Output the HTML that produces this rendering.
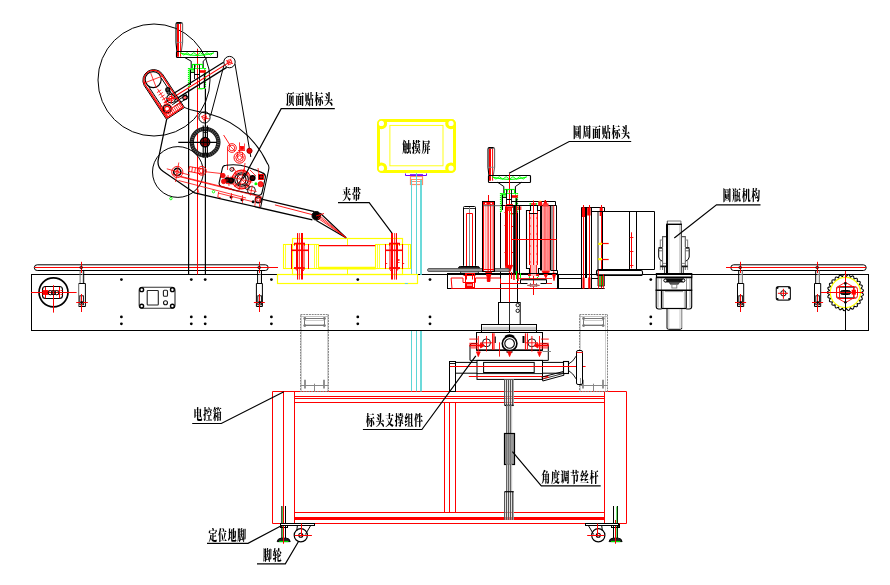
<!DOCTYPE html>
<html lang="zh"><head><meta charset="utf-8"><title>贴标机</title>
<style>
html,body{margin:0;padding:0;background:#fff;}
body{width:890px;height:585px;overflow:hidden;}
svg{display:block;}
text{font-family:"Liberation Serif","Noto Serif CJK SC",serif;font-weight:900;fill:#000;}
</style></head><body>
<svg width="890" height="585" viewBox="0 0 890 585" fill="none" stroke-linecap="butt">
<rect width="890" height="585" fill="#fff"/>
<g id="conveyor">
<rect x="31.50" y="274.50" width="837.00" height="56.00" rx="0" stroke="#000" stroke-width="1" fill="none" />
<rect x="34.30" y="264.80" width="233.90" height="5.70" rx="2.9" stroke="#000" stroke-width="1" fill="none" />
<line x1="34.50" y1="267.50" x2="278.00" y2="267.50" stroke="#f00" stroke-width="1" />
<rect x="730.80" y="264.80" width="135.40" height="5.70" rx="2.9" stroke="#000" stroke-width="1" fill="none" />
<line x1="726.00" y1="267.50" x2="866.00" y2="267.50" stroke="#f00" stroke-width="1" />
<line x1="80.10" y1="270.50" x2="80.10" y2="283.50" stroke="#777" stroke-width="1" />
<line x1="83.70" y1="270.50" x2="83.70" y2="283.50" stroke="#000" stroke-width="1" />
<line x1="82.40" y1="271.00" x2="82.40" y2="283.00" stroke="#ccc" stroke-width="0.8" />
<path d="M78.70 283.50 L85.40 283.50 L85.40 306.50 L78.70 306.50" stroke="#000" stroke-width="1" fill="none" />
<line x1="78.70" y1="283.50" x2="78.70" y2="306.50" stroke="#666" stroke-width="1" />
<rect x="79.80" y="295.80" width="3.60" height="9.00" rx="0" stroke="#000" stroke-width="0.9" fill="none" />
<line x1="81.50" y1="261.80" x2="81.50" y2="273.00" stroke="#f00" stroke-width="1" />
<line x1="81.50" y1="294.00" x2="81.50" y2="312.00" stroke="#f00" stroke-width="1" />
<line x1="76.20" y1="302.50" x2="87.80" y2="302.50" stroke="#f00" stroke-width="1" />
<circle cx="81.7" cy="302.5" r="1.4" stroke="#000" stroke-width="0" fill="#200" />
<circle cx="81.2" cy="267.5" r="1.3" stroke="#000" stroke-width="0.8" fill="none" />
<line x1="257.60" y1="270.50" x2="257.60" y2="283.50" stroke="#000" stroke-width="1" />
<line x1="261.50" y1="270.50" x2="261.50" y2="283.50" stroke="#000" stroke-width="1" />
<line x1="260.05" y1="271.00" x2="260.05" y2="283.00" stroke="#ccc" stroke-width="0.8" />
<path d="M256.40 283.50 L262.40 283.50 L262.40 306.50 L256.40 306.50" stroke="#000" stroke-width="1" fill="none" />
<line x1="256.40" y1="283.50" x2="256.40" y2="306.50" stroke="#000" stroke-width="1" />
<rect x="257.80" y="295.80" width="3.60" height="9.00" rx="0" stroke="#000" stroke-width="0.9" fill="none" />
<line x1="259.50" y1="261.80" x2="259.50" y2="273.00" stroke="#f00" stroke-width="1" />
<line x1="259.50" y1="294.00" x2="259.50" y2="312.00" stroke="#f00" stroke-width="1" />
<line x1="253.90" y1="302.50" x2="264.80" y2="302.50" stroke="#f00" stroke-width="1" />
<circle cx="259.7" cy="302.5" r="1.4" stroke="#000" stroke-width="0" fill="#200" />
<circle cx="259.2" cy="267.5" r="1.3" stroke="#000" stroke-width="0.8" fill="none" />
<line x1="738.70" y1="270.50" x2="738.70" y2="283.50" stroke="#000" stroke-width="1" />
<line x1="742.40" y1="270.50" x2="742.40" y2="283.50" stroke="#777" stroke-width="1" />
<line x1="741.05" y1="271.00" x2="741.05" y2="283.00" stroke="#ccc" stroke-width="0.8" />
<path d="M737.50 283.50 L743.70 283.50 L743.70 306.50 L737.50 306.50" stroke="#000" stroke-width="1" fill="none" />
<line x1="737.50" y1="283.50" x2="737.50" y2="306.50" stroke="#000" stroke-width="1" />
<rect x="738.80" y="295.80" width="3.60" height="9.00" rx="0" stroke="#000" stroke-width="0.9" fill="none" />
<line x1="740.50" y1="261.80" x2="740.50" y2="273.00" stroke="#f00" stroke-width="1" />
<line x1="740.50" y1="294.00" x2="740.50" y2="312.00" stroke="#f00" stroke-width="1" />
<line x1="735.00" y1="302.50" x2="746.10" y2="302.50" stroke="#f00" stroke-width="1" />
<circle cx="740.7" cy="302.5" r="1.4" stroke="#000" stroke-width="0" fill="#200" />
<circle cx="740.2" cy="267.5" r="1.3" stroke="#000" stroke-width="0.8" fill="none" />
<line x1="815.70" y1="270.50" x2="815.70" y2="283.50" stroke="#000" stroke-width="1" />
<line x1="819.40" y1="270.50" x2="819.40" y2="283.50" stroke="#777" stroke-width="1" />
<line x1="818.05" y1="271.00" x2="818.05" y2="283.00" stroke="#ccc" stroke-width="0.8" />
<path d="M814.50 283.50 L820.70 283.50 L820.70 306.50 L814.50 306.50" stroke="#000" stroke-width="1" fill="none" />
<line x1="814.50" y1="283.50" x2="814.50" y2="306.50" stroke="#000" stroke-width="1" />
<rect x="815.80" y="295.80" width="3.60" height="9.00" rx="0" stroke="#000" stroke-width="0.9" fill="none" />
<line x1="817.50" y1="261.80" x2="817.50" y2="273.00" stroke="#f00" stroke-width="1" />
<line x1="817.50" y1="294.00" x2="817.50" y2="312.00" stroke="#f00" stroke-width="1" />
<line x1="812.00" y1="302.50" x2="823.10" y2="302.50" stroke="#f00" stroke-width="1" />
<circle cx="817.7" cy="302.5" r="1.4" stroke="#000" stroke-width="0" fill="#200" />
<circle cx="817.2" cy="267.5" r="1.3" stroke="#000" stroke-width="0.8" fill="none" />
<circle cx="121.4" cy="279.6" r="1.4" stroke="none" stroke-width="0" fill="#000" />
<circle cx="121.4" cy="316.9" r="1.4" stroke="none" stroke-width="0" fill="#000" />
<circle cx="121.4" cy="323.8" r="1.4" stroke="none" stroke-width="0" fill="#000" />
<circle cx="191.3" cy="279.6" r="1.4" stroke="none" stroke-width="0" fill="#000" />
<circle cx="191.3" cy="316.9" r="1.4" stroke="none" stroke-width="0" fill="#000" />
<circle cx="191.3" cy="323.8" r="1.4" stroke="none" stroke-width="0" fill="#000" />
<circle cx="205.2" cy="279.6" r="1.4" stroke="none" stroke-width="0" fill="#000" />
<circle cx="205.2" cy="316.9" r="1.4" stroke="none" stroke-width="0" fill="#000" />
<circle cx="205.2" cy="323.8" r="1.4" stroke="none" stroke-width="0" fill="#000" />
<circle cx="271.4" cy="279.6" r="1.4" stroke="none" stroke-width="0" fill="#000" />
<circle cx="271.4" cy="316.9" r="1.4" stroke="none" stroke-width="0" fill="#000" />
<circle cx="271.4" cy="323.8" r="1.4" stroke="none" stroke-width="0" fill="#000" />
<circle cx="357.8" cy="279.6" r="1.4" stroke="none" stroke-width="0" fill="#000" />
<circle cx="357.8" cy="316.9" r="1.4" stroke="none" stroke-width="0" fill="#000" />
<circle cx="357.8" cy="323.8" r="1.4" stroke="none" stroke-width="0" fill="#000" />
<circle cx="430.0" cy="279.6" r="1.4" stroke="none" stroke-width="0" fill="#000" />
<circle cx="430.0" cy="316.9" r="1.4" stroke="none" stroke-width="0" fill="#000" />
<circle cx="430.0" cy="323.8" r="1.4" stroke="none" stroke-width="0" fill="#000" />
<circle cx="650.8" cy="279.6" r="1.4" stroke="none" stroke-width="0" fill="#000" />
<circle cx="650.8" cy="316.9" r="1.4" stroke="none" stroke-width="0" fill="#000" />
<circle cx="650.8" cy="323.8" r="1.4" stroke="none" stroke-width="0" fill="#000" />
<circle cx="53.5" cy="292.3" r="14.5" stroke="#000" stroke-width="1.7" fill="none" />
<rect x="42.50" y="286.50" width="20.00" height="12.00" rx="3" stroke="#000" stroke-width="1.1" fill="none" />
<line x1="31.00" y1="292.50" x2="76.60" y2="292.50" stroke="#f00" stroke-width="1" />
<line x1="53.50" y1="285.20" x2="53.50" y2="312.60" stroke="#f00" stroke-width="1" />
<line x1="45.50" y1="287.00" x2="45.50" y2="298.30" stroke="#f00" stroke-width="1" />
<line x1="59.50" y1="287.00" x2="59.50" y2="298.30" stroke="#f00" stroke-width="1" />
<line x1="42.50" y1="290.50" x2="62.50" y2="290.50" stroke="#f00" stroke-width="0.8" stroke-dasharray="2 1"/>
<line x1="42.50" y1="294.50" x2="62.50" y2="294.50" stroke="#f00" stroke-width="0.8" stroke-dasharray="2 1"/>
<rect x="42.60" y="290.20" width="5.80" height="4.60" rx="0" stroke="#f00" stroke-width="0" fill="#f00" />
<circle cx="50.3" cy="292.7" r="2.1" stroke="#000" stroke-width="1" fill="none" />
<circle cx="53.5" cy="292.7" r="2.1" stroke="#000" stroke-width="1" fill="none" />
<circle cx="56.7" cy="292.7" r="2.1" stroke="#000" stroke-width="1" fill="none" />
<rect x="139.20" y="287.20" width="35.80" height="21.00" rx="3" stroke="#333" stroke-width="1.15" fill="none" />
<rect x="147.20" y="290.50" width="11.10" height="14.50" rx="0.8" stroke="#222" stroke-width="1.1" fill="none" />
<rect x="163.40" y="290.30" width="4.10" height="5.90" rx="1" stroke="#222" stroke-width="1.1" fill="none" />
<circle cx="165.5" cy="302.8" r="2.0" stroke="#111" stroke-width="1.1" fill="none" />
<circle cx="141.7" cy="289.7" r="1.9" stroke="#000" stroke-width="1.4" fill="#fff" />
<circle cx="172.4" cy="289.7" r="1.9" stroke="#000" stroke-width="1.4" fill="#fff" />
<circle cx="141.7" cy="306.1" r="1.9" stroke="#000" stroke-width="1.4" fill="#fff" />
<circle cx="172.4" cy="306.1" r="1.9" stroke="#000" stroke-width="1.4" fill="#fff" />
<rect x="776.30" y="286.60" width="14.10" height="13.60" rx="2.2" stroke="#222" stroke-width="1.2" fill="none" />
<circle cx="777.5" cy="287.8" r="1.1" stroke="none" stroke-width="0" fill="#000" />
<circle cx="789.2" cy="287.8" r="1.1" stroke="none" stroke-width="0" fill="#000" />
<circle cx="777.5" cy="299.0" r="1.1" stroke="none" stroke-width="0" fill="#000" />
<circle cx="789.2" cy="299.0" r="1.1" stroke="none" stroke-width="0" fill="#000" />
<circle cx="783.4" cy="293.3" r="2.7" stroke="#000" stroke-width="1" fill="none" />
<line x1="777.90" y1="293.30" x2="788.00" y2="293.30" stroke="#f00" stroke-width="1" />
<line x1="783.40" y1="288.80" x2="783.40" y2="298.80" stroke="#f00" stroke-width="1" />
<path d="M861.40 292.50 Q865.84 295.08 860.90 296.48 Q864.55 300.08 859.42 300.21 Q862.07 304.61 857.06 303.45 Q858.53 308.37 853.97 306.01 Q854.17 311.14 850.34 307.72 Q849.26 312.74 846.40 308.47 Q844.11 313.06 842.40 308.22 Q839.03 312.09 838.59 306.98 Q834.36 309.89 835.20 304.83 Q830.38 306.60 832.46 301.90 Q827.35 302.42 830.52 298.39 Q825.45 297.62 829.53 294.51 Q824.80 292.50 829.53 290.49 Q825.45 287.38 830.52 286.61 Q827.35 282.58 832.46 283.10 Q830.38 278.40 835.20 280.17 Q834.36 275.11 838.59 278.02 Q839.03 272.91 842.40 276.78 Q844.11 271.94 846.40 276.53 Q849.26 272.26 850.34 277.28 Q854.17 273.86 853.97 278.99 Q858.53 276.63 857.06 281.55 Q862.07 280.39 859.42 284.79 Q864.55 284.92 860.90 288.52 Q865.84 289.92 861.40 292.50 Z" stroke="#000" stroke-width="1.1" fill="none" />
<circle cx="845.4" cy="292.5" r="15.1" stroke="#ff0" stroke-width="1.2" fill="none" />
<path d="M845.40 282.30 L854.20 287.40 L854.20 297.60 L845.40 302.70 L836.60 297.60 L836.60 287.40 Z" stroke="#f00" stroke-width="0.9" fill="none" />
<rect x="836.50" y="286.50" width="21.00" height="12.00" rx="3" stroke="#f00" stroke-width="1" fill="none" />
<line x1="838.00" y1="287.50" x2="855.50" y2="287.50" stroke="#555" stroke-width="0.9" />
<line x1="838.00" y1="297.50" x2="855.50" y2="297.50" stroke="#555" stroke-width="0.9" />
<line x1="839.50" y1="286.40" x2="839.50" y2="298.80" stroke="#f00" stroke-width="0.9" />
<line x1="853.50" y1="286.40" x2="853.50" y2="298.80" stroke="#f00" stroke-width="0.9" />
<rect x="840.50" y="290.50" width="10.00" height="4.00" rx="2" stroke="#000" stroke-width="1" fill="#222" />
<line x1="842.00" y1="292.50" x2="849.00" y2="292.50" stroke="#999" stroke-width="0.8" />
<rect x="851.60" y="289.80" width="4.30" height="4.80" rx="0" stroke="#f00" stroke-width="0" fill="#f00" />
<line x1="820.90" y1="292.50" x2="863.20" y2="292.50" stroke="#f00" stroke-width="1" />
<line x1="845.50" y1="271.00" x2="845.50" y2="283.00" stroke="#f00" stroke-width="1" />
<line x1="845.50" y1="283.40" x2="845.50" y2="330.50" stroke="#000" stroke-width="1" />
<circle cx="845.4" cy="283.4" r="1.3" stroke="none" stroke-width="0" fill="#000" />
<circle cx="845.4" cy="302.2" r="1.3" stroke="none" stroke-width="0" fill="#000" />
</g>
<g id="cabinet">
<path d="M618.50 523.50 L626.50 523.50 L626.50 391.50 L272.50 391.50 L272.50 523.50 L280.50 523.50" stroke="#f00" stroke-width="1" fill="none" />
<line x1="313.60" y1="523.50" x2="585.00" y2="523.50" stroke="#f00" stroke-width="1" />
<line x1="283.50" y1="391.50" x2="283.50" y2="523.50" stroke="#f00" stroke-width="1" />
<line x1="294.50" y1="391.50" x2="294.50" y2="523.50" stroke="#f00" stroke-width="1" />
<line x1="604.50" y1="391.50" x2="604.50" y2="523.50" stroke="#f00" stroke-width="1" />
<line x1="294.50" y1="396.50" x2="604.50" y2="396.50" stroke="#f00" stroke-width="1" />
<line x1="294.50" y1="398.50" x2="604.50" y2="398.50" stroke="#f00" stroke-width="1" />
<line x1="294.50" y1="402.50" x2="604.50" y2="402.50" stroke="#f00" stroke-width="1" />
<line x1="294.50" y1="512.50" x2="604.50" y2="512.50" stroke="#f00" stroke-width="1" />
<line x1="294.50" y1="518.50" x2="604.50" y2="518.50" stroke="#f00" stroke-width="3" />
<line x1="444.50" y1="402.50" x2="444.50" y2="512.50" stroke="#f00" stroke-width="1" />
<line x1="449.50" y1="402.50" x2="449.50" y2="512.50" stroke="#f00" stroke-width="1" />
<line x1="455.50" y1="402.50" x2="455.50" y2="512.50" stroke="#f00" stroke-width="1" />
</g>
<rect x="300.50" y="314.50" width="28.00" height="77.00" rx="0" stroke="#888" stroke-width="1" fill="none" stroke-dasharray="2 0.8"/>
<line x1="301.50" y1="315.00" x2="301.50" y2="391.00" stroke="#bbb" stroke-width="0.7" />
<line x1="327.50" y1="315.00" x2="327.50" y2="391.00" stroke="#bbb" stroke-width="0.7" />
<line x1="300.20" y1="316.50" x2="328.60" y2="316.50" stroke="#aaa" stroke-width="0.7" />
<rect x="304.50" y="318.50" width="20.00" height="7.00" rx="0" stroke="#777" stroke-width="1" fill="none" />
<line x1="304.60" y1="320.50" x2="324.60" y2="320.50" stroke="#aaa" stroke-width="0.6" />
<line x1="304.60" y1="324.50" x2="324.60" y2="324.50" stroke="#aaa" stroke-width="0.6" />
<circle cx="304.8" cy="318.5" r="1.4" stroke="none" stroke-width="0" fill="#777" />
<circle cx="304.8" cy="325.6" r="1.4" stroke="none" stroke-width="0" fill="#777" />
<circle cx="324.4" cy="318.5" r="1.4" stroke="none" stroke-width="0" fill="#777" />
<circle cx="324.4" cy="325.6" r="1.4" stroke="none" stroke-width="0" fill="#777" />
<line x1="300.20" y1="385.50" x2="328.60" y2="385.50" stroke="#888" stroke-width="1" />
<line x1="305.00" y1="379.70" x2="305.00" y2="388.60" stroke="#888" stroke-width="1.8" />
<line x1="324.00" y1="379.70" x2="324.00" y2="388.60" stroke="#888" stroke-width="1.8" />
<line x1="314.50" y1="383.70" x2="314.50" y2="391.50" stroke="#888" stroke-width="1" />
<rect x="579.50" y="314.50" width="28.00" height="77.00" rx="0" stroke="#888" stroke-width="1" fill="none" stroke-dasharray="2 0.8"/>
<line x1="580.50" y1="315.00" x2="580.50" y2="391.00" stroke="#bbb" stroke-width="0.7" />
<line x1="605.50" y1="315.00" x2="605.50" y2="391.00" stroke="#bbb" stroke-width="0.7" />
<line x1="579.00" y1="316.50" x2="607.30" y2="316.50" stroke="#aaa" stroke-width="0.7" />
<rect x="583.50" y="318.50" width="20.00" height="7.00" rx="0" stroke="#777" stroke-width="1" fill="none" />
<line x1="583.40" y1="320.50" x2="603.30" y2="320.50" stroke="#aaa" stroke-width="0.6" />
<line x1="583.40" y1="324.50" x2="603.30" y2="324.50" stroke="#aaa" stroke-width="0.6" />
<circle cx="583.6" cy="318.5" r="1.4" stroke="none" stroke-width="0" fill="#777" />
<circle cx="583.6" cy="325.6" r="1.4" stroke="none" stroke-width="0" fill="#777" />
<circle cx="603.1" cy="318.5" r="1.4" stroke="none" stroke-width="0" fill="#777" />
<circle cx="603.1" cy="325.6" r="1.4" stroke="none" stroke-width="0" fill="#777" />
<line x1="579.00" y1="385.50" x2="607.30" y2="385.50" stroke="#888" stroke-width="1" />
<line x1="583.00" y1="379.70" x2="583.00" y2="388.60" stroke="#888" stroke-width="1.8" />
<line x1="603.00" y1="379.70" x2="603.00" y2="388.60" stroke="#888" stroke-width="1.8" />
<line x1="593.50" y1="383.70" x2="593.50" y2="391.50" stroke="#888" stroke-width="1" />
<line x1="281.80" y1="506.00" x2="281.80" y2="538.00" stroke="#000" stroke-width="1" />
<line x1="285.50" y1="506.00" x2="285.50" y2="538.00" stroke="#000" stroke-width="1" />
<line x1="282.75" y1="506.50" x2="282.75" y2="538.00" stroke="#0c0" stroke-width="0.8" />
<line x1="283.50" y1="505.00" x2="283.50" y2="543.50" stroke="#f00" stroke-width="1" />
<path d="M277.2 541.6 Q277.6 538.4 281.1 538.2 L286.4 538.2 Q289.8 538.4 290.2 541.6 Z" stroke="#000" stroke-width="1" fill="#222" />
<line x1="279.15" y1="541.50" x2="288.45" y2="541.50" stroke="#0d0" stroke-width="1.2" />
<rect x="280.50" y="524.50" width="7.00" height="3.00" rx="0" stroke="#000" stroke-width="1" fill="none" />
<line x1="283.50" y1="505.00" x2="283.50" y2="543.50" stroke="#f00" stroke-width="1" />
<line x1="613.50" y1="506.00" x2="613.50" y2="538.00" stroke="#000" stroke-width="1" />
<line x1="617.50" y1="506.00" x2="617.50" y2="538.00" stroke="#000" stroke-width="1" />
<line x1="616.80" y1="506.50" x2="616.80" y2="538.00" stroke="#0c0" stroke-width="0.8" />
<line x1="615.50" y1="520.00" x2="615.50" y2="543.50" stroke="#f00" stroke-width="1" />
<path d="M609.1 541.6 Q609.5 538.4 613.0 538.2 L618.3 538.2 Q621.7 538.4 622.1 541.6 Z" stroke="#000" stroke-width="1" fill="#222" />
<line x1="611.00" y1="541.50" x2="620.30" y2="541.50" stroke="#0d0" stroke-width="1.2" />
<rect x="611.50" y="524.50" width="8.00" height="3.00" rx="0" stroke="#000" stroke-width="1" fill="none" />
<line x1="615.50" y1="520.00" x2="615.50" y2="543.50" stroke="#f00" stroke-width="1" />
<line x1="281.00" y1="523.50" x2="281.00" y2="527.50" stroke="#000" stroke-width="1.6" />
<line x1="618.00" y1="523.50" x2="618.00" y2="527.50" stroke="#000" stroke-width="1.6" />
<rect x="280.50" y="523.50" width="34.00" height="2.00" rx="0" stroke="#000" stroke-width="1" fill="#fff" />
<circle cx="300.8" cy="535.3" r="6.6" stroke="#000" stroke-width="1.2" fill="none" />
<circle cx="300.8" cy="535.3" r="2.0" stroke="#000" stroke-width="1.1" fill="none" />
<line x1="297.40" y1="525.50" x2="296.70" y2="531.00" stroke="#000" stroke-width="1" />
<line x1="310.70" y1="525.50" x2="305.40" y2="534.50" stroke="#000" stroke-width="1" />
<line x1="294.90" y1="535.50" x2="311.90" y2="535.50" stroke="#f00" stroke-width="1" />
<line x1="301.50" y1="523.50" x2="301.50" y2="536.50" stroke="#f00" stroke-width="1" />
<rect x="585.50" y="523.50" width="33.00" height="2.00" rx="0" stroke="#000" stroke-width="1" fill="#fff" />
<circle cx="598.3" cy="535.3" r="6.6" stroke="#000" stroke-width="1.2" fill="none" />
<circle cx="598.3" cy="535.3" r="2.0" stroke="#000" stroke-width="1.1" fill="none" />
<line x1="601.70" y1="525.50" x2="602.40" y2="531.00" stroke="#000" stroke-width="1" />
<line x1="588.40" y1="525.50" x2="593.70" y2="534.50" stroke="#000" stroke-width="1" />
<line x1="604.20" y1="535.50" x2="587.20" y2="535.50" stroke="#f00" stroke-width="1" />
<line x1="597.50" y1="523.50" x2="597.50" y2="536.50" stroke="#f00" stroke-width="1" />
<g id="touch">
<rect x="378.50" y="120.50" width="76.00" height="51.00" rx="3.2" stroke="#ff0" stroke-width="3" fill="none" />
<rect x="389.90" y="125.40" width="53.10" height="40.40" rx="0" stroke="#ff0" stroke-width="0.9" fill="none" />
<clipPath id="tsclip"><rect x="377" y="119" width="79" height="54" rx="4.7"/></clipPath><g clip-path="url(#tsclip)">
<circle cx="381.4" cy="123.4" r="4.2" stroke="#ff0" stroke-width="3.2" fill="#fff" />
<circle cx="451.0" cy="123.4" r="4.2" stroke="#ff0" stroke-width="3.2" fill="#fff" />
<circle cx="381.4" cy="168.2" r="4.2" stroke="#ff0" stroke-width="3.2" fill="#fff" />
<circle cx="451.0" cy="168.2" r="4.2" stroke="#ff0" stroke-width="3.2" fill="#fff" />
</g>
<path d="M405.50 173.50 L405.50 175.50 L426.50 175.50 L426.50 173.50" stroke="#7000ff" stroke-width="1" fill="none" />
<line x1="410.00" y1="175.00" x2="423.00" y2="175.00" stroke="#7000ff" stroke-width="1.6" />
<rect x="410.50" y="176.50" width="12.00" height="8.00" rx="0" stroke="#ff8c69" stroke-width="1.2" fill="none" />
<line x1="410.00" y1="179.50" x2="422.60" y2="179.50" stroke="#ff8c69" stroke-width="1" />
<line x1="410.00" y1="181.50" x2="422.60" y2="181.50" stroke="#ff8c69" stroke-width="1" />
<line x1="411.50" y1="180.00" x2="411.50" y2="275.00" stroke="#5cd6d6" stroke-width="1" />
<line x1="416.50" y1="173.00" x2="416.50" y2="275.00" stroke="#5cd6d6" stroke-width="1" />
<line x1="421.00" y1="180.00" x2="421.00" y2="275.00" stroke="#5cd6d6" stroke-width="1.8" />
<line x1="411.50" y1="330.30" x2="411.50" y2="391.40" stroke="#5cd6d6" stroke-width="1" />
<line x1="416.50" y1="330.30" x2="416.50" y2="391.40" stroke="#5cd6d6" stroke-width="1" />
<line x1="421.00" y1="330.30" x2="421.00" y2="391.40" stroke="#5cd6d6" stroke-width="1.8" />
</g>
<g id="clamp">
<rect x="277.50" y="274.50" width="140.00" height="9.00" rx="0" stroke="#ff0" stroke-width="1.2" fill="#fff" />
<circle cx="357.8" cy="279.6" r="1.4" stroke="none" stroke-width="0" fill="#000" />
<line x1="404.90" y1="283.50" x2="407.90" y2="283.50" stroke="#5cd6d6" stroke-width="1" />
<rect x="292.50" y="238.50" width="110.00" height="36.00" rx="0" stroke="#ff0" stroke-width="1.2" fill="none" />
<line x1="347.50" y1="238.50" x2="347.50" y2="245.00" stroke="#ff0" stroke-width="1" />
<line x1="347.50" y1="268.50" x2="347.50" y2="274.50" stroke="#ff0" stroke-width="1" />
<rect x="283.50" y="244.50" width="35.00" height="24.00" rx="0" stroke="#ff0" stroke-width="1.1" fill="none" />
<rect x="375.50" y="244.50" width="35.00" height="24.00" rx="0" stroke="#ff0" stroke-width="1.1" fill="none" />
<line x1="285.50" y1="244.50" x2="285.50" y2="268.60" stroke="#ff0" stroke-width="0.8" />
<line x1="314.50" y1="244.50" x2="314.50" y2="268.60" stroke="#ff0" stroke-width="0.8" />
<line x1="316.50" y1="244.50" x2="316.50" y2="268.60" stroke="#ff0" stroke-width="0.8" />
<line x1="377.50" y1="244.50" x2="377.50" y2="268.60" stroke="#ff0" stroke-width="0.8" />
<line x1="379.50" y1="244.50" x2="379.50" y2="268.60" stroke="#ff0" stroke-width="0.8" />
<line x1="408.50" y1="244.50" x2="408.50" y2="268.60" stroke="#ff0" stroke-width="0.8" />
<line x1="319.00" y1="245.60" x2="375.20" y2="245.60" stroke="#f00" stroke-width="1.4" />
<line x1="318.50" y1="268.20" x2="375.60" y2="268.20" stroke="#ff0" stroke-width="2.7" />
<line x1="297.50" y1="233.10" x2="297.50" y2="279.60" stroke="#f00" stroke-width="1" />
<line x1="299.30" y1="233.10" x2="299.30" y2="279.60" stroke="#f00" stroke-width="0.9" />
<line x1="302.00" y1="233.10" x2="302.00" y2="279.60" stroke="#f00" stroke-width="2" />
<line x1="291.50" y1="244.00" x2="291.50" y2="269.00" stroke="#f00" stroke-width="1" />
<line x1="308.50" y1="244.00" x2="308.50" y2="269.00" stroke="#f00" stroke-width="1" />
<line x1="296.50" y1="242.80" x2="296.50" y2="267.70" stroke="#f00" stroke-width="1" />
<line x1="304.00" y1="242.80" x2="304.00" y2="267.70" stroke="#f00" stroke-width="1" />
<line x1="291.50" y1="250.30" x2="308.50" y2="250.30" stroke="#f00" stroke-width="1.6" />
<line x1="294.00" y1="243.50" x2="305.00" y2="243.50" stroke="#f00" stroke-width="1.5" />
<line x1="294.50" y1="243.50" x2="294.50" y2="245.60" stroke="#f00" stroke-width="1" />
<line x1="304.50" y1="243.50" x2="304.50" y2="245.60" stroke="#f00" stroke-width="1" />
<line x1="294.00" y1="268.00" x2="304.80" y2="268.00" stroke="#f00" stroke-width="1.8" />
<line x1="295.40" y1="268.50" x2="297.50" y2="271.00" stroke="#f00" stroke-width="1" />
<line x1="304.60" y1="268.50" x2="303.00" y2="271.00" stroke="#f00" stroke-width="1" />
<line x1="396.50" y1="233.10" x2="396.50" y2="279.60" stroke="#f00" stroke-width="1" />
<line x1="394.70" y1="233.10" x2="394.70" y2="279.60" stroke="#f00" stroke-width="0.9" />
<line x1="392.00" y1="233.10" x2="392.00" y2="279.60" stroke="#f00" stroke-width="2" />
<line x1="402.50" y1="244.00" x2="402.50" y2="269.00" stroke="#f00" stroke-width="1" />
<line x1="385.50" y1="244.00" x2="385.50" y2="269.00" stroke="#f00" stroke-width="1" />
<line x1="397.50" y1="242.80" x2="397.50" y2="267.70" stroke="#f00" stroke-width="1" />
<line x1="390.00" y1="242.80" x2="390.00" y2="267.70" stroke="#f00" stroke-width="1" />
<line x1="402.50" y1="250.30" x2="385.50" y2="250.30" stroke="#f00" stroke-width="1.6" />
<line x1="400.00" y1="243.50" x2="389.00" y2="243.50" stroke="#f00" stroke-width="1.5" />
<line x1="399.50" y1="243.50" x2="399.50" y2="245.60" stroke="#f00" stroke-width="1" />
<line x1="389.50" y1="243.50" x2="389.50" y2="245.60" stroke="#f00" stroke-width="1" />
<line x1="400.00" y1="268.00" x2="389.20" y2="268.00" stroke="#f00" stroke-width="1.8" />
<line x1="398.60" y1="268.50" x2="396.50" y2="271.00" stroke="#f00" stroke-width="1" />
<line x1="389.40" y1="268.50" x2="391.00" y2="271.00" stroke="#f00" stroke-width="1" />
<line x1="398.00" y1="259.50" x2="399.60" y2="259.50" stroke="#f00" stroke-width="0.8" />
<line x1="398.00" y1="260.50" x2="399.60" y2="260.50" stroke="#f00" stroke-width="0.8" />
<line x1="398.00" y1="262.50" x2="399.60" y2="262.50" stroke="#f00" stroke-width="0.8" />
<line x1="385.50" y1="263.50" x2="387.20" y2="263.50" stroke="#f00" stroke-width="0.9" />
<line x1="402.50" y1="263.50" x2="404.20" y2="263.50" stroke="#f00" stroke-width="0.9" />
</g>
<g id="lefthead">
<circle cx="154.0" cy="80.0" r="56.0" stroke="#000" stroke-width="1" fill="none" />
<line x1="188.60" y1="88.50" x2="188.60" y2="274.50" stroke="#000" stroke-width="1.2" />
<line x1="205.40" y1="88.50" x2="205.40" y2="274.50" stroke="#000" stroke-width="1.2" />
<line x1="197.50" y1="48.70" x2="197.50" y2="274.50" stroke="#f00" stroke-width="1" />
<path d="M176.9 51.5 L176.0 42.4 L176.0 24.1 Q176.0 22.6 177.5 22.6 L181.2 22.6" stroke="#000" stroke-width="1.1" fill="none" />
<path d="M181.2 22.6 Q182.6 22.6 182.6 24.1 L182.6 42.4 L181.3 51.5" stroke="#666" stroke-width="1.1" fill="none" />
<line x1="176.80" y1="23.00" x2="181.60" y2="23.00" stroke="#000" stroke-width="1.5" />
<line x1="178.00" y1="23.90" x2="178.00" y2="56.70" stroke="#f00" stroke-width="2" />
<line x1="180.60" y1="23.90" x2="180.60" y2="56.70" stroke="#f00" stroke-width="1" />
<line x1="176.00" y1="42.40" x2="182.60" y2="42.40" stroke="#888" stroke-width="0.8" />
<rect x="176.50" y="51.50" width="41.00" height="6.00" rx="0.8" stroke="#000" stroke-width="1.15" fill="none" />
<path d="M180.50 52.70 L183.82 55.10 L187.14 52.70 L190.46 55.10 L193.78 52.70 L197.10 55.10 L200.42 52.70 L203.74 55.10 L207.06 52.70 L210.38 55.10 L213.70 52.70" stroke="#0f0" stroke-width="1" fill="none" />
<path d="M180.5 53.0 Q197.1 58.0 213.7 53.0" stroke="#0f0" stroke-width="1" fill="none" />
<path d="M184.80 57.60 L191.20 61.20 L191.20 68.00" stroke="#000" stroke-width="1" fill="none" />
<path d="M207.00 57.60 L203.20 61.20 L203.20 68.00" stroke="#000" stroke-width="1" fill="none" />
<line x1="188.50" y1="68.00" x2="188.50" y2="87.00" stroke="#0f0" stroke-width="1.2" stroke-dasharray="1.2 0.8"/>
<line x1="205.50" y1="68.00" x2="205.50" y2="87.00" stroke="#0f0" stroke-width="1.2" stroke-dasharray="1.2 0.8"/>
<line x1="189.50" y1="68.00" x2="189.50" y2="87.00" stroke="#0f0" stroke-width="0.7" />
<line x1="204.50" y1="68.00" x2="204.50" y2="87.00" stroke="#0f0" stroke-width="0.7" />
<line x1="188.40" y1="68.50" x2="205.10" y2="68.50" stroke="#0f0" stroke-width="0.8" />
<path d="M197.4 88.6 Q201.4 89.6 205.1 88.2" stroke="#0f0" stroke-width="1" fill="none" />
<line x1="199.40" y1="88.50" x2="205.10" y2="88.50" stroke="#0f0" stroke-width="0.8" />
<line x1="191.80" y1="64.50" x2="202.90" y2="64.50" stroke="#0f0" stroke-width="1.2" />
<line x1="192.50" y1="64.80" x2="192.50" y2="68.00" stroke="#0f0" stroke-width="1" />
<line x1="202.50" y1="64.80" x2="202.50" y2="68.00" stroke="#0f0" stroke-width="1" />
<line x1="195.50" y1="64.80" x2="195.50" y2="67.50" stroke="#0f0" stroke-width="0.8" />
<line x1="199.50" y1="64.80" x2="199.50" y2="67.50" stroke="#0f0" stroke-width="0.8" />
<rect x="190.50" y="69.50" width="4.00" height="3.00" rx="0" stroke="#0f0" stroke-width="0.9" fill="#7f7" />
<rect x="199.50" y="70.50" width="6.00" height="2.00" rx="0" stroke="#f00" stroke-width="0.6" fill="#f00" />
<line x1="190.50" y1="69.80" x2="190.50" y2="85.00" stroke="#000" stroke-width="1" />
<line x1="194.50" y1="64.70" x2="194.50" y2="79.00" stroke="#000" stroke-width="0.9" />
<line x1="199.50" y1="64.70" x2="199.50" y2="88.00" stroke="#000" stroke-width="0.9" />
<line x1="204.50" y1="73.20" x2="204.50" y2="88.00" stroke="#000" stroke-width="1.4" />
<line x1="194.80" y1="74.50" x2="199.50" y2="74.50" stroke="#000" stroke-width="1" />
<line x1="190.50" y1="72.50" x2="194.80" y2="72.50" stroke="#000" stroke-width="0.8" />
<circle cx="229.5" cy="62.1" r="5.7" stroke="#000" stroke-width="1" fill="none" />
<circle cx="229.5" cy="62.1" r="2.3" stroke="#f00" stroke-width="0.9" fill="none" />
<line x1="226.00" y1="60.50" x2="233.00" y2="63.70" stroke="#f00" stroke-width="0.8" />
<line x1="228.00" y1="65.50" x2="231.00" y2="58.70" stroke="#f00" stroke-width="0.8" />
<line x1="226.68" y1="67.40" x2="175.13" y2="99.65" stroke="#000" stroke-width="1.3" />
<line x1="223.50" y1="62.31" x2="171.95" y2="94.57" stroke="#000" stroke-width="1.3" />
<line x1="229.50" y1="62.10" x2="164.22" y2="102.94" stroke="#f00" stroke-width="1.1" />
<line x1="174.50" y1="106.18" x2="188.07" y2="97.70" stroke="#000" stroke-width="1" />
<line x1="174.50" y1="102.41" x2="186.37" y2="94.98" stroke="#000" stroke-width="1" />
<line x1="185.31" y1="93.29" x2="188.07" y2="97.70" stroke="#000" stroke-width="1" />
<circle cx="184.9" cy="97.5" r="2.1" stroke="#000" stroke-width="1.1" fill="none" />
<circle cx="184.9" cy="97.5" r="1.0" stroke="#f00" stroke-width="0.9" fill="none" />
<line x1="223.90" y1="65.50" x2="210.60" y2="115.80" stroke="#000" stroke-width="1" />
<line x1="235.00" y1="64.00" x2="250.80" y2="157.00" stroke="#000" stroke-width="1" />
<path d="M166.5 119.4 L144.2 85.5 A10.8 10.8 0 0 1 162.2 73.7 L184.5 107.5 Z" stroke="#000" stroke-width="1" fill="none" />
<path d="M166.8 117.9 L145.1 84.9 A9.7 9.7 0 0 1 161.3 74.3 L183.0 107.2 Z" stroke="#f00" stroke-width="1.3" fill="none" />
<circle cx="153.2" cy="79.6" r="8.0" stroke="#000" stroke-width="1.1" fill="none" />
<line x1="143.40" y1="83.36" x2="162.07" y2="76.20" stroke="#f00" stroke-width="0.8" />
<line x1="150.69" y1="73.06" x2="156.43" y2="88.00" stroke="#f00" stroke-width="0.8" />
<line x1="148.51" y1="86.29" x2="165.02" y2="111.33" stroke="#000" stroke-width="1" />
<line x1="161.20" y1="77.92" x2="172.76" y2="95.45" stroke="#000" stroke-width="1" />
<line x1="148.69" y1="88.56" x2="167.41" y2="116.95" stroke="#f00" stroke-width="0.8" />
<line x1="161.19" y1="89.90" x2="157.02" y2="92.65" stroke="#f00" stroke-width="0.8" />
<line x1="162.84" y1="92.41" x2="158.67" y2="95.16" stroke="#f00" stroke-width="0.8" />
<line x1="164.49" y1="94.91" x2="160.32" y2="97.66" stroke="#f00" stroke-width="0.8" />
<line x1="166.15" y1="97.42" x2="161.97" y2="100.17" stroke="#f00" stroke-width="0.8" />
<line x1="167.80" y1="99.92" x2="163.62" y2="102.67" stroke="#f00" stroke-width="0.8" />
<line x1="169.45" y1="102.43" x2="165.27" y2="105.18" stroke="#f00" stroke-width="0.8" />
<line x1="157.45" y1="88.77" x2="168.46" y2="105.47" stroke="#f00" stroke-width="0.8" />
<line x1="160.57" y1="103.49" x2="160.26" y2="108.48" stroke="#f00" stroke-width="0.8" />
<line x1="162.77" y1="106.83" x2="161.78" y2="109.88" stroke="#f00" stroke-width="0.8" />
<circle cx="171.0" cy="98.7" r="4.2" stroke="#000" stroke-width="1.2" fill="none" />
<circle cx="171.0" cy="98.7" r="2.4" stroke="#f00" stroke-width="1" fill="none" />
<line x1="166.00" y1="98.50" x2="176.00" y2="98.50" stroke="#f00" stroke-width="0.8" />
<line x1="171.50" y1="93.70" x2="171.50" y2="103.70" stroke="#f00" stroke-width="0.8" />
<circle cx="167.8" cy="89.7" r="2.0" stroke="#000" stroke-width="1.2" fill="#444" />
<circle cx="168.6" cy="92.7" r="1.6" stroke="#000" stroke-width="1" fill="#666" />
<circle cx="167.1" cy="108.8" r="4.0" stroke="#000" stroke-width="1.3" fill="none" />
<circle cx="167.1" cy="108.8" r="2.5" stroke="#f00" stroke-width="1.2" fill="none" />
<circle cx="167.1" cy="108.8" r="5.0" stroke="#f00" stroke-width="0.8" fill="none" />
<line x1="178.60" y1="103.58" x2="181.90" y2="108.59" stroke="#f00" stroke-width="0.85" />
<line x1="176.93" y1="104.68" x2="180.23" y2="109.69" stroke="#f00" stroke-width="0.85" />
<line x1="175.26" y1="105.78" x2="178.56" y2="110.79" stroke="#f00" stroke-width="0.85" />
<line x1="173.59" y1="106.88" x2="176.89" y2="111.89" stroke="#f00" stroke-width="0.85" />
<line x1="171.92" y1="107.98" x2="175.22" y2="112.99" stroke="#f00" stroke-width="0.85" />
<line x1="170.25" y1="109.09" x2="173.55" y2="114.09" stroke="#f00" stroke-width="0.85" />
<line x1="168.58" y1="110.19" x2="171.88" y2="115.20" stroke="#f00" stroke-width="0.85" />
<line x1="166.91" y1="111.29" x2="170.21" y2="116.30" stroke="#f00" stroke-width="0.85" />
<line x1="165.24" y1="112.39" x2="168.54" y2="117.40" stroke="#f00" stroke-width="0.85" />
<line x1="180.01" y1="102.65" x2="163.82" y2="113.32" stroke="#f00" stroke-width="0.9" />
<line x1="178.64" y1="100.56" x2="172.21" y2="104.80" stroke="#000" stroke-width="1" />
<path d="M166.7 119.2 L158.3 159.3 Q156.7 167.1 163.3 171.6 L194.6 192.9 L312.4 219.9" stroke="#000" stroke-width="1.25" fill="none" />
<path d="M184.2 107.4 Q190 110.2 197.0 111.2 A91.7 91.7 0 0 1 267.5 163.7 Q269.6 166 268.6 170 L260.6 207.5" stroke="#000" stroke-width="1.05" fill="none" />
<line x1="262.60" y1="199.40" x2="314.50" y2="211.70" stroke="#000" stroke-width="1.3" />
<line x1="274.90" y1="204.90" x2="316.00" y2="215.60" stroke="#f00" stroke-width="0.9" />
<circle cx="316.3" cy="215.8" r="4.3" stroke="#000" stroke-width="1" fill="#000" />
<path d="M320.30 213.30 L346.30 237.90 L316.30 220.40" stroke="#000" stroke-width="1.2" fill="none" />
<line x1="317.75" y1="218.12" x2="346.00" y2="237.60" stroke="#f00" stroke-width="0.8" />
<line x1="318.50" y1="216.75" x2="346.00" y2="237.60" stroke="#f00" stroke-width="0.8" />
<line x1="319.25" y1="215.38" x2="346.00" y2="237.60" stroke="#f00" stroke-width="0.8" />
<line x1="316.00" y1="216.00" x2="324.00" y2="213.50" stroke="#f00" stroke-width="0.9" />
<circle cx="204.5" cy="117.4" r="5.6" stroke="#000" stroke-width="1" fill="none" />
<circle cx="204.5" cy="117.4" r="2.2" stroke="#f00" stroke-width="0.8" fill="none" />
<line x1="201.00" y1="116.50" x2="209.00" y2="119.00" stroke="#f00" stroke-width="0.8" />
<line x1="204.00" y1="121.50" x2="206.00" y2="114.00" stroke="#f00" stroke-width="0.8" />
<circle cx="205.1" cy="142.2" r="13.3" stroke="#1c1c1c" stroke-width="4.3" fill="none" />
<circle cx="205.1" cy="142.2" r="13.3" stroke="#777" stroke-width="2.6" fill="none" stroke-dasharray="0.6 1.6"/>
<circle cx="205.1" cy="142.2" r="4.6" stroke="#000" stroke-width="1.5" fill="#b00" />
<circle cx="205.1" cy="142.2" r="2.4" stroke="#300" stroke-width="1" fill="#600" stroke-dasharray="1 1"/>
<line x1="178.30" y1="142.30" x2="216.90" y2="142.30" stroke="#000" stroke-width="1.3" />
<line x1="203.20" y1="125.50" x2="203.20" y2="157.80" stroke="#000" stroke-width="1.1" />
<line x1="207.40" y1="125.50" x2="207.40" y2="157.80" stroke="#000" stroke-width="1.1" />
<line x1="203.20" y1="130.10" x2="207.40" y2="130.10" stroke="#000" stroke-width="0.9" />
<line x1="203.20" y1="132.40" x2="207.40" y2="132.40" stroke="#000" stroke-width="0.9" />
<line x1="203.20" y1="153.20" x2="207.40" y2="153.20" stroke="#000" stroke-width="0.9" />
<line x1="203.20" y1="155.00" x2="207.40" y2="155.00" stroke="#000" stroke-width="0.9" />
<circle cx="177.9" cy="172.0" r="25.4" stroke="#000" stroke-width="1" fill="none" />
</g>
<g id="platedetail">
<line x1="223.60" y1="135.00" x2="230.30" y2="145.60" stroke="#f00" stroke-width="0.9" />
<circle cx="231.9" cy="148.0" r="4.4" stroke="#f00" stroke-width="0.9" fill="none" />
<circle cx="231.9" cy="148.0" r="2.8" stroke="#f00" stroke-width="0.8" fill="none" />
<line x1="229.00" y1="145.00" x2="235.00" y2="151.00" stroke="#f00" stroke-width="0.7" />
<circle cx="239.6" cy="157.6" r="5.6" stroke="#f00" stroke-width="1" fill="none" />
<circle cx="239.6" cy="157.6" r="3.8" stroke="#f00" stroke-width="0.9" fill="none" />
<circle cx="239.6" cy="157.6" r="2.0" stroke="#f00" stroke-width="0.8" fill="none" />
<line x1="227.50" y1="148.80" x2="227.50" y2="170.00" stroke="#f00" stroke-width="0.8" />
<line x1="239.50" y1="142.40" x2="239.50" y2="152.70" stroke="#f00" stroke-width="0.8" />
<rect x="240.50" y="146.50" width="3.00" height="3.00" rx="0" stroke="#f00" stroke-width="0.8" fill="#f00" />
<line x1="238.00" y1="150.50" x2="245.00" y2="150.50" stroke="#f00" stroke-width="0.8" />
<line x1="244.50" y1="143.50" x2="244.50" y2="150.00" stroke="#f00" stroke-width="0.7" />
<line x1="237.50" y1="152.00" x2="237.50" y2="158.00" stroke="#f00" stroke-width="0.7" />
<line x1="242.50" y1="152.00" x2="242.50" y2="158.00" stroke="#f00" stroke-width="0.7" />
<circle cx="249.5" cy="150.8" r="2.6" stroke="#900" stroke-width="1" fill="#e00" />
<path d="M222.3 168.5 Q222.8 165.6 226 165.3 Q237 163.6 247.6 167 L262 172.6 Q265.9 174 265.3 177.5 L261.9 193 Q261.2 195.8 258 195.2 L247.6 193 Q235 190.6 221.5 186.6 Q218.6 185.6 219.2 182.5 Z" stroke="#000" stroke-width="1.15" fill="none" />
<circle cx="241.5" cy="179.5" r="9.4" stroke="#f00" stroke-width="1.2" fill="none" />
<circle cx="241.5" cy="179.5" r="6.8" stroke="#000" stroke-width="1.1" fill="none" />
<circle cx="241.5" cy="179.5" r="7.9" stroke="#f00" stroke-width="0.8" fill="none" />
<circle cx="241.5" cy="179.5" r="4.6" stroke="#f00" stroke-width="0.9" fill="none" />
<path d="M238.0 175.0 Q241.5 173.0 245.0 175.0 Q247.0 179.5 245.0 184.0 Q241.5 185.5 238.0 184.0 Q236.0 179.5 238.0 175.0 Z" stroke="#000" stroke-width="0.9" fill="none" />
<line x1="230.50" y1="176.90" x2="252.50" y2="182.10" stroke="#f00" stroke-width="0.8" />
<line x1="244.10" y1="168.50" x2="238.90" y2="190.50" stroke="#f00" stroke-width="0.8" />
<line x1="234.50" y1="172.50" x2="248.50" y2="186.50" stroke="#f00" stroke-width="0.7" />
<line x1="248.50" y1="172.50" x2="234.50" y2="186.50" stroke="#f00" stroke-width="0.7" />
<line x1="238.50" y1="184.50" x2="245.10" y2="172.50" stroke="#000" stroke-width="0.9" />
<line x1="245.00" y1="163.00" x2="244.00" y2="172.00" stroke="#f00" stroke-width="0.8" />
<line x1="233.00" y1="167.00" x2="236.00" y2="172.00" stroke="#f00" stroke-width="0.8" />
<line x1="250.00" y1="170.00" x2="256.00" y2="176.00" stroke="#f00" stroke-width="0.8" />
<line x1="258.00" y1="168.00" x2="259.50" y2="178.00" stroke="#f00" stroke-width="0.8" />
<line x1="226.00" y1="177.00" x2="233.00" y2="178.50" stroke="#f00" stroke-width="0.9" />
<line x1="226.00" y1="183.50" x2="233.00" y2="184.00" stroke="#f00" stroke-width="0.9" />
<line x1="228.00" y1="175.00" x2="229.00" y2="186.00" stroke="#f00" stroke-width="0.8" />
<circle cx="252.6" cy="178.0" r="2.3" stroke="#000" stroke-width="1.6" fill="#400" />
<circle cx="231.1" cy="180.6" r="2.3" stroke="#000" stroke-width="1.6" fill="#400" />
<circle cx="227.0" cy="180.0" r="2.2" stroke="#000" stroke-width="1.3" fill="#600" />
<circle cx="261.2" cy="176.9" r="2.3" stroke="#000" stroke-width="1.2" fill="#c00" />
<rect x="258.50" y="174.50" width="5.00" height="5.00" rx="0" stroke="#f00" stroke-width="0.9" fill="none" />
<circle cx="222.9" cy="175.6" r="2.3" stroke="#f00" stroke-width="0.8" fill="#e11" />
<circle cx="223.7" cy="181.4" r="2.3" stroke="#f00" stroke-width="0.8" fill="#e11" />
<circle cx="260.6" cy="184.2" r="2.6" stroke="#f00" stroke-width="0.8" fill="#f22" />
<circle cx="255.9" cy="183.7" r="1.5" stroke="#0f0" stroke-width="0" fill="#0f0" />
<circle cx="231.8" cy="169.4" r="1.9" stroke="#000" stroke-width="0.9" fill="none" />
<line x1="230.50" y1="168.00" x2="233.00" y2="171.00" stroke="#f00" stroke-width="0.7" />
<circle cx="251.4" cy="190.4" r="4.0" stroke="#000" stroke-width="0.9" fill="none" />
<line x1="246.50" y1="189.50" x2="256.50" y2="191.50" stroke="#f00" stroke-width="0.8" />
<line x1="252.30" y1="185.50" x2="250.40" y2="195.50" stroke="#f00" stroke-width="0.8" />
<circle cx="247.2" cy="187.2" r="2.2" stroke="#000" stroke-width="0.8" fill="none" />
<circle cx="258.3" cy="199.7" r="3.0" stroke="#000" stroke-width="1.4" fill="none" />
<circle cx="258.3" cy="199.7" r="1.5" stroke="#f00" stroke-width="0.9" fill="none" />
<line x1="256.00" y1="196.00" x2="254.80" y2="206.00" stroke="#f00" stroke-width="0.8" />
<line x1="260.50" y1="197.50" x2="259.30" y2="207.00" stroke="#f00" stroke-width="0.8" />
<circle cx="231.1" cy="197.1" r="1.5" stroke="none" stroke-width="0" fill="#000" />
<circle cx="242.0" cy="199.7" r="1.5" stroke="none" stroke-width="0" fill="#000" />
<circle cx="253.1" cy="201.8" r="1.5" stroke="none" stroke-width="0" fill="#000" />
<line x1="231.50" y1="193.00" x2="231.50" y2="200.00" stroke="#f00" stroke-width="0.7" />
<line x1="242.50" y1="195.00" x2="242.50" y2="203.00" stroke="#f00" stroke-width="0.7" />
<circle cx="170.9" cy="198.6" r="1.2" stroke="#0f0" stroke-width="0.9" fill="none" />
<circle cx="213.5" cy="191.7" r="1.2" stroke="#0f0" stroke-width="0.9" fill="none" />
<circle cx="177.3" cy="172.0" r="3.6" stroke="#000" stroke-width="1.6" fill="none" />
<circle cx="177.3" cy="172.0" r="5.6" stroke="#f00" stroke-width="0.9" fill="none" />
<circle cx="177.3" cy="172.0" r="1.6" stroke="#f00" stroke-width="0.8" fill="none" />
<line x1="166.80" y1="168.80" x2="190.00" y2="175.20" stroke="#f00" stroke-width="0.8" />
<line x1="178.80" y1="162.50" x2="175.50" y2="182.00" stroke="#f00" stroke-width="0.8" />
<path d="M189.5 166.6 L203 169 L202.2 174 L188.6 171.4 Z" stroke="#f00" stroke-width="0.9" fill="none" />
<line x1="192.50" y1="167.00" x2="191.70" y2="172.00" stroke="#f00" stroke-width="0.8" />
<line x1="195.50" y1="167.60" x2="194.70" y2="172.60" stroke="#f00" stroke-width="0.8" />
<line x1="198.50" y1="168.20" x2="197.70" y2="173.20" stroke="#f00" stroke-width="0.8" />
<circle cx="201.8" cy="170.8" r="4.4" stroke="#f00" stroke-width="1" fill="none" />
<circle cx="201.8" cy="170.8" r="2.4" stroke="#f00" stroke-width="0.8" fill="none" />
<line x1="206.00" y1="171.80" x2="222.00" y2="173.60" stroke="#f00" stroke-width="0.8" />
<line x1="180.00" y1="176.80" x2="262.00" y2="197.20" stroke="#f00" stroke-width="0.8" />
<line x1="172.60" y1="174.40" x2="232.00" y2="189.00" stroke="#f00" stroke-width="0.8" />
<line x1="178.50" y1="180.50" x2="246.00" y2="198.00" stroke="#f00" stroke-width="0.8" />
<line x1="218.00" y1="193.00" x2="252.00" y2="201.50" stroke="#f00" stroke-width="0.8" />
<path d="M218.6 192 L217.8 197 L221 198" stroke="#f00" stroke-width="0.8" fill="none" />
<line x1="197.50" y1="188.00" x2="199.00" y2="193.00" stroke="#f00" stroke-width="0.7" />
</g>
<g id="righthead">
<path d="M488.9 175.5 L488.0 167.3 L488.0 149.0 Q488.0 147.5 489.5 147.5 L493.2 147.5" stroke="#000" stroke-width="1.1" fill="none" />
<path d="M493.2 147.5 Q494.6 147.5 494.6 149.0 L494.6 167.3 L493.3 175.5" stroke="#666" stroke-width="1.1" fill="none" />
<line x1="488.80" y1="147.90" x2="493.60" y2="147.90" stroke="#000" stroke-width="1.5" />
<line x1="490.00" y1="148.80" x2="490.00" y2="180.70" stroke="#f00" stroke-width="2" />
<line x1="492.60" y1="148.80" x2="492.60" y2="180.70" stroke="#f00" stroke-width="1" />
<line x1="488.00" y1="167.30" x2="494.60" y2="167.30" stroke="#888" stroke-width="0.8" />
<rect x="488.50" y="175.50" width="42.00" height="7.00" rx="0.8" stroke="#000" stroke-width="1.15" fill="none" />
<path d="M492.50 176.70 L495.91 179.10 L499.32 176.70 L502.73 179.10 L506.14 176.70 L509.55 179.10 L512.96 176.70 L516.37 179.10 L519.78 176.70 L523.19 179.10 L526.60 176.70" stroke="#0f0" stroke-width="1" fill="none" />
<path d="M492.5 177.0 Q509.6 182.0 526.6 177.0" stroke="#0f0" stroke-width="1" fill="none" />
<path d="M497.70 182.30 L503.80 186.50 L503.80 193.00" stroke="#000" stroke-width="1" fill="none" />
<path d="M521.50 182.30 L515.40 186.50 L515.40 193.00" stroke="#000" stroke-width="1" fill="none" />
<line x1="509.50" y1="173.50" x2="509.50" y2="302.70" stroke="#f00" stroke-width="1" />
<line x1="500.50" y1="193.00" x2="500.50" y2="212.00" stroke="#0f0" stroke-width="1.2" stroke-dasharray="1.2 0.8"/>
<line x1="517.50" y1="193.00" x2="517.50" y2="212.00" stroke="#0f0" stroke-width="1.2" stroke-dasharray="1.2 0.8"/>
<line x1="501.50" y1="193.00" x2="501.50" y2="212.00" stroke="#0f0" stroke-width="0.7" />
<line x1="515.50" y1="193.00" x2="515.50" y2="212.00" stroke="#0f0" stroke-width="0.7" />
<line x1="500.30" y1="193.50" x2="517.00" y2="193.50" stroke="#0f0" stroke-width="0.8" />
<path d="M509.3 213.6 Q513.3 214.6 517.0 213.2" stroke="#0f0" stroke-width="1" fill="none" />
<line x1="511.30" y1="213.50" x2="517.00" y2="213.50" stroke="#0f0" stroke-width="0.8" />
<line x1="503.70" y1="189.50" x2="514.80" y2="189.50" stroke="#0f0" stroke-width="1.2" />
<line x1="504.50" y1="189.80" x2="504.50" y2="193.00" stroke="#0f0" stroke-width="1" />
<line x1="514.50" y1="189.80" x2="514.50" y2="193.00" stroke="#0f0" stroke-width="1" />
<line x1="507.50" y1="189.80" x2="507.50" y2="192.50" stroke="#0f0" stroke-width="0.8" />
<line x1="511.50" y1="189.80" x2="511.50" y2="192.50" stroke="#0f0" stroke-width="0.8" />
<rect x="502.50" y="194.50" width="4.00" height="3.00" rx="0" stroke="#0f0" stroke-width="0.9" fill="#7f7" />
<rect x="511.50" y="195.50" width="6.00" height="2.00" rx="0" stroke="#f00" stroke-width="0.6" fill="#f00" />
<line x1="502.50" y1="194.80" x2="502.50" y2="210.00" stroke="#000" stroke-width="1" />
<line x1="506.50" y1="189.70" x2="506.50" y2="204.00" stroke="#000" stroke-width="0.9" />
<line x1="511.50" y1="189.70" x2="511.50" y2="213.00" stroke="#000" stroke-width="0.9" />
<line x1="516.50" y1="198.20" x2="516.50" y2="213.00" stroke="#000" stroke-width="1.4" />
<line x1="506.70" y1="199.50" x2="511.40" y2="199.50" stroke="#000" stroke-width="1" />
<line x1="502.40" y1="197.50" x2="506.70" y2="197.50" stroke="#000" stroke-width="0.8" />
<rect x="507.30" y="206.40" width="3.70" height="4.60" rx="0" stroke="#f00" stroke-width="0" fill="#f33" />
<rect x="517.60" y="206.40" width="3.80" height="3.60" rx="0" stroke="#f00" stroke-width="0" fill="#f33" />
<line x1="500.50" y1="212.50" x2="500.50" y2="302.00" stroke="#000" stroke-width="1" />
<line x1="517.50" y1="212.50" x2="517.50" y2="302.00" stroke="#000" stroke-width="1" />
<line x1="514.50" y1="205.50" x2="514.50" y2="273.00" stroke="#000" stroke-width="2.6" />
<line x1="519.50" y1="205.50" x2="519.50" y2="273.00" stroke="#000" stroke-width="1" />
<line x1="505.50" y1="207.00" x2="505.50" y2="266.00" stroke="#000" stroke-width="1" />
<line x1="507.00" y1="207.00" x2="507.00" y2="266.00" stroke="#f00" stroke-width="2" />
<line x1="511.50" y1="207.00" x2="511.50" y2="266.00" stroke="#f00" stroke-width="1" />
<line x1="516.50" y1="205.50" x2="516.50" y2="273.00" stroke="#f00" stroke-width="1" />
<line x1="511.50" y1="213.50" x2="513.00" y2="213.50" stroke="#f00" stroke-width="1" />
<line x1="511.50" y1="226.50" x2="513.00" y2="226.50" stroke="#f00" stroke-width="1" />
<line x1="511.50" y1="239.50" x2="513.00" y2="239.50" stroke="#f00" stroke-width="1" />
<line x1="511.50" y1="252.50" x2="513.00" y2="252.50" stroke="#f00" stroke-width="1" />
<path d="M505.50 265.40 L509.50 272.60 L512.50 265.40 Z" stroke="#f00" stroke-width="1" fill="#f00" />
<rect x="506.50" y="204.50" width="6.00" height="3.00" rx="0" stroke="#f00" stroke-width="0.9" fill="#f66" />
<rect x="463.50" y="206.50" width="12.00" height="60.00" rx="1" stroke="#000" stroke-width="1" fill="none" />
<line x1="463.00" y1="208.50" x2="475.50" y2="208.50" stroke="#000" stroke-width="0.8" />
<line x1="469.50" y1="207.00" x2="469.50" y2="266.30" stroke="#888" stroke-width="1" />
<path d="M466.50 279.50 L466.50 213.50 L472.50 213.50 L472.50 279.50" stroke="#f00" stroke-width="1" fill="none" />
<rect x="458.50" y="266.50" width="21.00" height="4.00" rx="1.8" stroke="#000" stroke-width="1" fill="#222" />
<rect x="460.50" y="270.50" width="18.00" height="3.00" rx="1.2" stroke="#000" stroke-width="0.8" fill="#bbb" />
<rect x="427.50" y="268.50" width="82.00" height="3.00" rx="1.5" stroke="#444" stroke-width="0.8" fill="#999" />
<rect x="482.50" y="201.50" width="12.00" height="70.00" rx="0" stroke="#000" stroke-width="1" fill="#ffe6e6" />
<line x1="483.50" y1="202.00" x2="483.50" y2="271.00" stroke="#f00" stroke-width="1" />
<line x1="488.10" y1="202.00" x2="488.10" y2="271.00" stroke="#f00" stroke-width="1" />
<line x1="490.60" y1="202.00" x2="490.60" y2="271.00" stroke="#f00" stroke-width="1" />
<line x1="493.20" y1="202.00" x2="493.20" y2="271.00" stroke="#f00" stroke-width="1" />
<line x1="485.80" y1="205.00" x2="485.80" y2="269.00" stroke="#f77" stroke-width="0.7" />
<rect x="483.00" y="202.00" width="11.00" height="2.70" rx="0" stroke="none" stroke-width="0" fill="#f00" />
<line x1="485.00" y1="203.30" x2="486.50" y2="203.30" stroke="#fff" stroke-width="1.2" />
<line x1="490.50" y1="203.30" x2="492.00" y2="203.30" stroke="#fff" stroke-width="1.2" />
<line x1="483.00" y1="269.50" x2="494.00" y2="269.50" stroke="#f00" stroke-width="1" />
<path d="M485.80 272.00 L487.30 277.50 L487.30 281.40 L490.00 281.40 L490.00 277.50 L491.60 272.00 Z" stroke="#f00" stroke-width="1" fill="#f00" />
<line x1="488.50" y1="195.00" x2="488.50" y2="201.00" stroke="#f00" stroke-width="1" />
<line x1="511.40" y1="201.50" x2="555.50" y2="201.50" stroke="#000" stroke-width="1" />
<line x1="500.80" y1="205.50" x2="556.50" y2="205.50" stroke="#000" stroke-width="1" />
<line x1="555.50" y1="201.50" x2="555.50" y2="205.50" stroke="#000" stroke-width="1" />
<line x1="556.50" y1="205.50" x2="556.50" y2="270.00" stroke="#000" stroke-width="1" />
<line x1="550.50" y1="205.50" x2="550.50" y2="270.00" stroke="#000" stroke-width="1" />
<line x1="552.00" y1="205.50" x2="552.00" y2="270.00" stroke="#222" stroke-width="0.9" />
<line x1="553.70" y1="205.50" x2="553.70" y2="278.00" stroke="#f00" stroke-width="0.9" />
<path d="M550.50 270.50 L557.50 270.50 L557.50 288.50" stroke="#000" stroke-width="1" fill="none" />
<path d="M552.30 273.20 L555.80 273.20 L554.00 280.70 Z" stroke="#f00" stroke-width="0.8" fill="#f00" />
<line x1="483.00" y1="205.70" x2="500.50" y2="205.70" stroke="#555" stroke-width="0.9" />
<path d="M530.50 205.50 L530.50 210.50 L526.50 210.50 L526.50 268.50 L529.50 268.50 L529.50 276.50" stroke="#000" stroke-width="1.1" fill="none" />
<path d="M537.50 205.50 L537.50 210.50 L540.50 210.50" stroke="#000" stroke-width="1.1" fill="none" />
<path d="M540.50 268.50 L538.50 268.50 L538.50 276.50" stroke="#000" stroke-width="1.1" fill="none" />
<rect x="529.00" y="213.40" width="8.50" height="51.60" rx="0" stroke="none" stroke-width="0" fill="#ffe9e9" />
<line x1="529.50" y1="211.00" x2="529.50" y2="265.00" stroke="#f00" stroke-width="1" />
<line x1="537.50" y1="211.00" x2="537.50" y2="265.00" stroke="#f00" stroke-width="1" />
<line x1="530.50" y1="214.00" x2="530.50" y2="265.00" stroke="#f99" stroke-width="0.5" />
<line x1="531.50" y1="214.00" x2="531.50" y2="265.00" stroke="#f99" stroke-width="0.5" />
<line x1="533.50" y1="214.00" x2="533.50" y2="265.00" stroke="#f99" stroke-width="0.5" />
<line x1="534.50" y1="214.00" x2="534.50" y2="265.00" stroke="#f99" stroke-width="0.5" />
<line x1="536.50" y1="214.00" x2="536.50" y2="265.00" stroke="#f99" stroke-width="0.5" />
<line x1="533.50" y1="200.50" x2="533.50" y2="295.00" stroke="#f00" stroke-width="1" />
<line x1="529.00" y1="213.50" x2="537.50" y2="213.50" stroke="#000" stroke-width="1" />
<line x1="529.50" y1="218.00" x2="531.00" y2="218.00" stroke="#f00" stroke-width="0.8" />
<line x1="536.00" y1="218.00" x2="537.40" y2="218.00" stroke="#f00" stroke-width="0.8" />
<line x1="529.50" y1="226.00" x2="531.00" y2="226.00" stroke="#f00" stroke-width="0.8" />
<line x1="536.00" y1="226.00" x2="537.40" y2="226.00" stroke="#f00" stroke-width="0.8" />
<line x1="529.50" y1="234.00" x2="531.00" y2="234.00" stroke="#f00" stroke-width="0.8" />
<line x1="536.00" y1="234.00" x2="537.40" y2="234.00" stroke="#f00" stroke-width="0.8" />
<line x1="529.50" y1="246.00" x2="531.00" y2="246.00" stroke="#f00" stroke-width="0.8" />
<line x1="536.00" y1="246.00" x2="537.40" y2="246.00" stroke="#f00" stroke-width="0.8" />
<line x1="529.50" y1="254.00" x2="531.00" y2="254.00" stroke="#f00" stroke-width="0.8" />
<line x1="536.00" y1="254.00" x2="537.40" y2="254.00" stroke="#f00" stroke-width="0.8" />
<line x1="529.50" y1="262.00" x2="531.00" y2="262.00" stroke="#f00" stroke-width="0.8" />
<line x1="536.00" y1="262.00" x2="537.40" y2="262.00" stroke="#f00" stroke-width="0.8" />
<rect x="530.00" y="265.00" width="7.20" height="11.00" rx="0" stroke="none" stroke-width="0" fill="#fbb" />
<line x1="530.50" y1="265.00" x2="530.50" y2="276.00" stroke="#f00" stroke-width="0.8" />
<line x1="536.50" y1="265.00" x2="536.50" y2="276.00" stroke="#f00" stroke-width="0.8" />
<rect x="528.00" y="273.40" width="2.20" height="2.60" rx="0" stroke="#f00" stroke-width="0" fill="#e11" />
<rect x="536.90" y="273.40" width="2.10" height="2.60" rx="0" stroke="#f00" stroke-width="0" fill="#e11" />
<line x1="529.50" y1="277.00" x2="529.50" y2="278.30" stroke="#0f0" stroke-width="1.2" />
<line x1="537.50" y1="277.00" x2="537.50" y2="278.30" stroke="#0f0" stroke-width="1.2" />
<line x1="529.50" y1="203.90" x2="531.00" y2="203.90" stroke="#0f0" stroke-width="1.6" />
<line x1="536.00" y1="203.90" x2="537.20" y2="203.90" stroke="#0f0" stroke-width="1.6" />
<line x1="531.00" y1="204.00" x2="536.00" y2="204.00" stroke="#f00" stroke-width="1.5" />
<line x1="541.00" y1="205.50" x2="541.00" y2="270.50" stroke="#000" stroke-width="2" />
<rect x="542.00" y="206.00" width="8.00" height="64.50" rx="0" stroke="none" stroke-width="0" fill="#fff0f0" />
<line x1="543.00" y1="206.00" x2="543.00" y2="270.50" stroke="#f00" stroke-width="0.62" />
<line x1="544.40" y1="206.00" x2="544.40" y2="270.50" stroke="#f00" stroke-width="0.62" />
<line x1="545.70" y1="206.00" x2="545.70" y2="270.50" stroke="#f00" stroke-width="0.62" />
<line x1="547.00" y1="206.00" x2="547.00" y2="270.50" stroke="#f00" stroke-width="0.62" />
<line x1="548.20" y1="206.00" x2="548.20" y2="270.50" stroke="#f00" stroke-width="0.62" />
<line x1="549.60" y1="206.00" x2="549.60" y2="270.50" stroke="#f00" stroke-width="0.62" />
<rect x="538.20" y="201.20" width="3.80" height="4.60" rx="0" stroke="#f00" stroke-width="0" fill="#f11" />
<rect x="539.00" y="200.70" width="2.00" height="0.80" rx="0" stroke="#ff0" stroke-width="0" fill="#ff0" />
<path d="M543.50 205.50 L545.30 200.00 L547.50 205.50 Z" stroke="#f00" stroke-width="1" fill="#f00" />
<rect x="542.50" y="203.50" width="6.00" height="3.00" rx="0" stroke="#f00" stroke-width="0" fill="#f33" />
<rect x="541.80" y="270.50" width="7.90" height="2.00" rx="0" stroke="#f00" stroke-width="0" fill="#f11" />
<path d="M543.00 272.50 L545.80 277.80 L548.40 272.50 Z" stroke="#f00" stroke-width="1" fill="#f00" />
<line x1="511.80" y1="239.50" x2="556.70" y2="239.50" stroke="#f00" stroke-width="1" />
<line x1="505.50" y1="205.00" x2="505.50" y2="268.00" stroke="#f00" stroke-width="0.8" />
<line x1="504.30" y1="212.50" x2="506.00" y2="212.50" stroke="#f00" stroke-width="0.8" />
<line x1="504.30" y1="225.50" x2="506.00" y2="225.50" stroke="#f00" stroke-width="0.8" />
<line x1="504.30" y1="252.50" x2="506.00" y2="252.50" stroke="#f00" stroke-width="0.8" />
<rect x="447.50" y="273.50" width="110.00" height="15.00" rx="0" stroke="#000" stroke-width="1" fill="none" />
<path d="M452.00 288.70 L451.10 278.00 L463.00 278.00 L463.00 282.50 L475.50 282.50 L475.50 278.00 L500.00 278.00" stroke="#f00" stroke-width="1" fill="none" />
<line x1="451.10" y1="288.50" x2="556.50" y2="288.50" stroke="#f00" stroke-width="0.9" />
<rect x="465.50" y="273.50" width="9.00" height="14.00" rx="0" stroke="#f00" stroke-width="1" fill="none" />
<rect x="466.50" y="283.50" width="6.00" height="3.00" rx="0" stroke="#f00" stroke-width="1" fill="#f88" />
<line x1="463.50" y1="275.50" x2="475.50" y2="275.50" stroke="#f00" stroke-width="1" />
<path d="M500.50 278.50 L500.50 283.50 L520.50 283.50" stroke="#f00" stroke-width="1" fill="none" />
<line x1="520.50" y1="279.50" x2="546.50" y2="279.50" stroke="#222" stroke-width="1.7" />
<path d="M527.50 283.50 L520.50 283.50 L520.50 279.50" stroke="#000" stroke-width="1" fill="none" />
<path d="M540.50 283.50 L546.50 283.50 L546.50 279.50" stroke="#000" stroke-width="1" fill="none" />
<line x1="530.50" y1="283.50" x2="530.50" y2="286.50" stroke="#000" stroke-width="1" />
<line x1="536.50" y1="283.50" x2="536.50" y2="286.50" stroke="#000" stroke-width="1" />
<line x1="519.00" y1="278.50" x2="552.00" y2="278.50" stroke="#f00" stroke-width="0.8" />
<line x1="546.50" y1="283.50" x2="552.00" y2="283.50" stroke="#f00" stroke-width="0.9" />
<path d="M527.3 285.4 Q533.5 283.2 539.5 285.4 Q533.5 287.4 527.3 285.4 Z" stroke="#a55" stroke-width="0.9" fill="#caa" />
<line x1="518.00" y1="273.50" x2="518.00" y2="281.00" stroke="#f00" stroke-width="1.5" />
<line x1="514.00" y1="273.50" x2="514.00" y2="280.00" stroke="#f00" stroke-width="1.5" />
<line x1="511.50" y1="272.00" x2="511.50" y2="279.00" stroke="#f00" stroke-width="1.2" />
<line x1="516.50" y1="271.00" x2="516.50" y2="279.00" stroke="#0f0" stroke-width="1" />
<line x1="520.50" y1="273.00" x2="520.50" y2="278.00" stroke="#0f0" stroke-width="1" />
<line x1="558.90" y1="274.50" x2="598.00" y2="274.50" stroke="#000" stroke-width="1" />
<line x1="558.90" y1="278.50" x2="581.80" y2="278.50" stroke="#000" stroke-width="1" />
<line x1="591.70" y1="278.50" x2="598.00" y2="278.50" stroke="#000" stroke-width="1" />
<line x1="558.50" y1="274.40" x2="558.50" y2="288.30" stroke="#000" stroke-width="1" />
<line x1="557.60" y1="288.50" x2="604.70" y2="288.50" stroke="#000" stroke-width="1" />
<rect x="498.50" y="302.50" width="21.70" height="22.00" rx="0" stroke="#000" stroke-width="1" fill="none" />
<line x1="509.50" y1="302.50" x2="509.50" y2="324.50" stroke="#333" stroke-width="1" />
<circle cx="517.7" cy="305.1" r="1.7" stroke="#000" stroke-width="0.9" fill="none" />
<circle cx="517.7" cy="310.8" r="1.7" stroke="#000" stroke-width="0.9" fill="none" />
<path d="M581.50 288.50 L581.50 207.50 L604.50 207.50 L604.50 211.50" stroke="#000" stroke-width="1" fill="none" />
<line x1="586.00" y1="207.50" x2="586.00" y2="278.00" stroke="#000" stroke-width="2" />
<line x1="591.50" y1="207.50" x2="591.50" y2="288.50" stroke="#000" stroke-width="1" />
<line x1="583.50" y1="205.00" x2="583.50" y2="288.50" stroke="#f00" stroke-width="1" />
<line x1="589.50" y1="205.00" x2="589.50" y2="288.50" stroke="#f00" stroke-width="1" />
<line x1="601.50" y1="205.00" x2="601.50" y2="288.50" stroke="#f00" stroke-width="1" />
<rect x="582.00" y="207.50" width="3.00" height="9.50" rx="0" stroke="none" stroke-width="0" fill="#f00" />
<rect x="587.20" y="207.50" width="3.40" height="8.00" rx="0" stroke="none" stroke-width="0" fill="#f00" />
<rect x="599.70" y="207.50" width="3.00" height="8.50" rx="0" stroke="none" stroke-width="0" fill="#f00" />
<rect x="582.50" y="277.50" width="2.10" height="11.00" rx="0" stroke="none" stroke-width="0" fill="#f00" />
<rect x="588.20" y="277.50" width="2.30" height="11.00" rx="0" stroke="none" stroke-width="0" fill="#f00" />
<line x1="598.00" y1="211.50" x2="598.00" y2="270.00" stroke="#888" stroke-width="2" />
<line x1="602.50" y1="211.50" x2="602.50" y2="270.00" stroke="#000" stroke-width="1" />
<line x1="599.80" y1="243.50" x2="608.70" y2="243.50" stroke="#f00" stroke-width="1.2" />
<line x1="599.80" y1="259.50" x2="608.70" y2="259.50" stroke="#f00" stroke-width="1.2" />
<rect x="598.30" y="242.80" width="3.70" height="2.20" rx="0" stroke="#ff0" stroke-width="0" fill="#ff0" />
<rect x="598.30" y="258.00" width="3.70" height="2.20" rx="0" stroke="#ff0" stroke-width="0" fill="#ff0" />
<path d="M591.50 211.50 L654.50 211.50 L654.50 269.50 L597.50 269.50" stroke="#000" stroke-width="1" fill="none" />
<line x1="629.50" y1="211.50" x2="629.50" y2="269.50" stroke="#000" stroke-width="1" />
<line x1="636.50" y1="211.50" x2="636.50" y2="269.50" stroke="#000" stroke-width="1" />
<line x1="631.50" y1="232.30" x2="631.50" y2="268.30" stroke="#f00" stroke-width="1" />
<line x1="629.80" y1="237.50" x2="633.40" y2="237.50" stroke="#f00" stroke-width="0.9" />
<line x1="629.80" y1="251.50" x2="633.40" y2="251.50" stroke="#f00" stroke-width="0.9" />
<line x1="629.80" y1="265.50" x2="633.40" y2="265.50" stroke="#f00" stroke-width="0.9" />
<rect x="596.50" y="270.50" width="46.00" height="5.00" rx="1.5" stroke="#000" stroke-width="1.1" fill="#fff" />
<line x1="597.50" y1="275.00" x2="642.00" y2="275.00" stroke="#000" stroke-width="1.6" />
<path d="M596.7 270 Q596.2 273 598 275 L598 286 L604.3 286 L604.3 274.6" stroke="#000" stroke-width="0.9" fill="none" />
<line x1="600.00" y1="276.00" x2="600.00" y2="286.00" stroke="#0a0" stroke-width="1.5" />
<line x1="602.50" y1="276.00" x2="602.50" y2="286.00" stroke="#0a0" stroke-width="1.2" />
<line x1="598.50" y1="270.00" x2="598.50" y2="288.70" stroke="#f00" stroke-width="0.8" />
<line x1="603.50" y1="274.00" x2="603.50" y2="288.70" stroke="#f00" stroke-width="0.8" />
</g>
<g id="motor">
<line x1="667.10" y1="221.00" x2="681.10" y2="221.00" stroke="#777" stroke-width="1" />
<line x1="667.30" y1="221.00" x2="667.30" y2="224.30" stroke="#444" stroke-width="1" />
<line x1="680.90" y1="221.00" x2="680.90" y2="224.30" stroke="#777" stroke-width="1" />
<line x1="666.20" y1="224.30" x2="682.00" y2="224.30" stroke="#000" stroke-width="1.4" />
<line x1="667.00" y1="224.30" x2="667.00" y2="273.00" stroke="#000" stroke-width="2" />
<line x1="681.30" y1="224.30" x2="681.30" y2="273.00" stroke="#222" stroke-width="1" />
<line x1="669.00" y1="225.00" x2="669.00" y2="273.00" stroke="#bbb" stroke-width="0.7" />
<line x1="679.60" y1="225.00" x2="679.60" y2="273.00" stroke="#bbb" stroke-width="0.7" />
<path d="M666.00 236.60 L662.60 236.60 L662.60 247.00" stroke="#555" stroke-width="1.1" fill="none" />
<path d="M662.60 240.00 L660.30 240.00 L660.30 247.00" stroke="#888" stroke-width="1.1" fill="none" />
<path d="M658.50 247.90 L662.60 247.90" stroke="#000" stroke-width="1.5" fill="none" />
<path d="M659.00 250.80 L662.60 250.80" stroke="#777" stroke-width="1" fill="none" />
<path d="M658.7 248.5 L658.7 257 Q659.0 260.2 662.6 261.4" stroke="#000" stroke-width="1" fill="none" />
<path d="M662.60 248.00 L662.60 270.00" stroke="#666" stroke-width="1" fill="none" />
<path d="M660.30 261.00 L660.30 270.00" stroke="#999" stroke-width="1" fill="none" />
<path d="M662.60 263.40 L666.00 263.40" stroke="#888" stroke-width="1" fill="none" />
<path d="M660.20 266.40 L666.00 266.40" stroke="#111" stroke-width="1.7" fill="none" />
<path d="M664.60 266.40 L664.60 273.00" stroke="#333" stroke-width="1" fill="none" />
<path d="M681.90 236.60 L685.30 236.60 L685.30 247.00" stroke="#555" stroke-width="1.1" fill="none" />
<path d="M685.30 240.00 L687.60 240.00 L687.60 247.00" stroke="#888" stroke-width="1.1" fill="none" />
<path d="M689.40 247.90 L685.30 247.90" stroke="#000" stroke-width="1.5" fill="none" />
<path d="M688.90 250.80 L685.30 250.80" stroke="#777" stroke-width="1" fill="none" />
<path d="M689.2 248.5 L689.2 257 Q688.9 260.2 685.3 261.4" stroke="#000" stroke-width="1" fill="none" />
<path d="M685.30 248.00 L685.30 270.00" stroke="#666" stroke-width="1" fill="none" />
<path d="M687.60 261.00 L687.60 270.00" stroke="#999" stroke-width="1" fill="none" />
<path d="M685.30 263.40 L681.90 263.40" stroke="#888" stroke-width="1" fill="none" />
<path d="M687.70 266.40 L681.90 266.40" stroke="#111" stroke-width="1.7" fill="none" />
<path d="M683.30 266.40 L683.30 273.00" stroke="#333" stroke-width="1" fill="none" />
<line x1="655.80" y1="274.00" x2="692.30" y2="274.00" stroke="#000" stroke-width="2" />
<line x1="656.50" y1="274.00" x2="656.50" y2="277.40" stroke="#000" stroke-width="1.2" />
<line x1="691.80" y1="274.00" x2="691.80" y2="277.40" stroke="#000" stroke-width="1.2" />
<line x1="656.00" y1="277.40" x2="692.20" y2="277.40" stroke="#000" stroke-width="1.7" />
<path d="M656.2 277.4 L656.2 306.5 Q656.2 309 658.7 309 L661.6 309" stroke="#000" stroke-width="1.1" fill="none" />
<path d="M691.7 277.4 L691.7 306.5 Q691.7 309 689.2 309 L686.2 309" stroke="#000" stroke-width="1.1" fill="none" />
<line x1="658.00" y1="278.00" x2="658.00" y2="307.50" stroke="#999" stroke-width="0.9" />
<line x1="690.00" y1="278.00" x2="690.00" y2="307.50" stroke="#999" stroke-width="0.9" />
<line x1="661.40" y1="278.00" x2="661.40" y2="290.00" stroke="#888" stroke-width="0.9" />
<line x1="686.50" y1="278.00" x2="686.50" y2="290.00" stroke="#888" stroke-width="0.9" />
<line x1="655.60" y1="290.20" x2="692.20" y2="290.20" stroke="#000" stroke-width="1.5" />
<line x1="664.80" y1="291.60" x2="683.00" y2="291.60" stroke="#888" stroke-width="0.9" />
<line x1="661.60" y1="290.20" x2="661.60" y2="308.50" stroke="#000" stroke-width="1.5" />
<line x1="686.20" y1="290.20" x2="686.20" y2="308.50" stroke="#000" stroke-width="1.2" />
<line x1="663.50" y1="291.00" x2="663.50" y2="308.00" stroke="#aaa" stroke-width="0.8" />
<line x1="684.40" y1="291.00" x2="684.40" y2="308.00" stroke="#aaa" stroke-width="0.8" />
<line x1="661.60" y1="308.50" x2="686.20" y2="308.50" stroke="#000" stroke-width="1.2" />
<rect x="664.20" y="278.80" width="20.40" height="3.20" rx="1.6" stroke="#000" stroke-width="0.8" fill="#111" />
<circle cx="665.3" cy="280.5" r="1.5" stroke="#000" stroke-width="0.9" fill="#fff" />
<circle cx="683.4" cy="280.5" r="1.5" stroke="#000" stroke-width="0.9" fill="#fff" />
<path d="M669.10 282.00 L679.50 282.00 L678.30 284.20 L670.30 284.20 Z" stroke="#333" stroke-width="0.8" fill="#555" />
<rect x="671.90" y="284.20" width="4.90" height="3.80" rx="0" stroke="#777" stroke-width="0.9" fill="none" />
<path d="M667 309 L667 328 Q667 329.3 668.5 329.3 L680.3 329.3 Q681.8 329.3 681.8 328" stroke="#000" stroke-width="1" fill="none" />
<line x1="681.80" y1="309.00" x2="681.80" y2="328.20" stroke="#777" stroke-width="1" />
<line x1="668.80" y1="309.00" x2="668.80" y2="329.00" stroke="#bbb" stroke-width="0.8" />
<line x1="680.00" y1="309.00" x2="680.00" y2="329.00" stroke="#bbb" stroke-width="0.8" />
</g>
<g id="support">
<rect x="481.50" y="324.50" width="55.00" height="8.00" rx="0" stroke="#000" stroke-width="1" fill="#fff" />
<line x1="482.50" y1="327.30" x2="536.00" y2="327.30" stroke="#aaa" stroke-width="0.7" />
<line x1="482.50" y1="328.40" x2="536.00" y2="328.40" stroke="#aaa" stroke-width="0.7" />
<line x1="482.50" y1="329.40" x2="536.00" y2="329.40" stroke="#aaa" stroke-width="0.7" />
<line x1="509.50" y1="324.50" x2="509.50" y2="332.50" stroke="#000" stroke-width="1" />
<line x1="31.50" y1="330.50" x2="868.50" y2="330.50" stroke="#000" stroke-width="1" />
<rect x="476.50" y="332.50" width="66.00" height="17.70" rx="0" stroke="#000" stroke-width="1" fill="#fff" />
<line x1="476.50" y1="350.20" x2="542.50" y2="350.20" stroke="#000" stroke-width="1.5" />
<path d="M476.5 343.5 L472 343.5 Q470 343.5 470 345.5 L470 360.4 L548.3 360.4 L548.3 345.5 Q548.3 343.5 546.3 343.5 L542.5 343.5" stroke="#000" stroke-width="1" fill="none" />
<line x1="542.50" y1="351.50" x2="551.00" y2="351.50" stroke="#777" stroke-width="0.9" />
<circle cx="509.6" cy="343.5" r="7.3" stroke="#000" stroke-width="1.6" fill="#fff" />
<circle cx="509.6" cy="343.5" r="4.8" stroke="#000" stroke-width="1.1" fill="none" />
<path d="M505.1 336.9 A8 8 0 0 1 514.1 336.9" stroke="#000" stroke-width="2" fill="none" />
<rect x="507.00" y="350.20" width="5.00" height="2.10" rx="0" stroke="#000" stroke-width="0.9" fill="none" />
<circle cx="486.5" cy="342.8" r="4.0" stroke="#000" stroke-width="0.9" fill="none" />
<line x1="480.50" y1="342.80" x2="492.50" y2="342.80" stroke="#f00" stroke-width="0.9" />
<line x1="486.50" y1="336.00" x2="486.50" y2="351.50" stroke="#f00" stroke-width="0.9" />
<circle cx="531.9" cy="342.8" r="4.0" stroke="#000" stroke-width="0.9" fill="none" />
<line x1="525.90" y1="342.80" x2="537.90" y2="342.80" stroke="#f00" stroke-width="0.9" />
<line x1="531.90" y1="336.00" x2="531.90" y2="351.50" stroke="#f00" stroke-width="0.9" />
<line x1="523.50" y1="336.00" x2="523.50" y2="343.00" stroke="#000" stroke-width="2" />
<line x1="495.20" y1="336.50" x2="495.20" y2="343.00" stroke="#000" stroke-width="1.2" />
<line x1="469.30" y1="339.10" x2="477.80" y2="339.10" stroke="#f00" stroke-width="0.9" />
<line x1="541.00" y1="339.10" x2="548.80" y2="339.10" stroke="#f00" stroke-width="0.9" />
<line x1="469.30" y1="345.50" x2="483.00" y2="345.50" stroke="#f00" stroke-width="2" />
<line x1="470.50" y1="347.90" x2="478.00" y2="347.90" stroke="#f00" stroke-width="0.9" />
<line x1="469.30" y1="343.30" x2="478.00" y2="343.30" stroke="#f00" stroke-width="0.9" />
<line x1="535.50" y1="345.50" x2="548.80" y2="345.50" stroke="#f00" stroke-width="2" />
<line x1="540.00" y1="347.90" x2="548.00" y2="347.90" stroke="#f00" stroke-width="0.9" />
<line x1="540.00" y1="343.30" x2="548.80" y2="343.30" stroke="#f00" stroke-width="0.9" />
<path d="M480.50 343.00 L484.60 345.50 L480.50 348.00 Z" stroke="#f00" stroke-width="0.8" fill="#f00" />
<path d="M538.00 343.00 L533.90 345.50 L538.00 348.00 Z" stroke="#f00" stroke-width="0.8" fill="#f00" />
<line x1="478.30" y1="336.00" x2="478.30" y2="351.30" stroke="#f00" stroke-width="0.9" />
<line x1="539.50" y1="336.00" x2="539.50" y2="351.30" stroke="#f00" stroke-width="0.9" />
<line x1="492.60" y1="333.30" x2="492.60" y2="349.70" stroke="#f00" stroke-width="1.1" />
<line x1="494.00" y1="333.30" x2="494.00" y2="349.70" stroke="#f00" stroke-width="1.1" />
<line x1="525.40" y1="333.30" x2="525.40" y2="349.70" stroke="#f00" stroke-width="1" />
<line x1="527.40" y1="333.30" x2="527.40" y2="349.70" stroke="#f00" stroke-width="1" />
<line x1="499.50" y1="342.30" x2="499.50" y2="356.60" stroke="#f00" stroke-width="0.9" />
<path d="M476.60 352.30 L480.00 352.30 L478.30 356.60 Z" stroke="#f00" stroke-width="0.8" fill="#f00" />
<line x1="476.10" y1="352.00" x2="480.50" y2="352.00" stroke="#f00" stroke-width="1" />
<path d="M507.90 352.30 L511.30 352.30 L509.60 356.60 Z" stroke="#f00" stroke-width="0.8" fill="#f00" />
<line x1="507.40" y1="352.00" x2="511.80" y2="352.00" stroke="#f00" stroke-width="1" />
<path d="M537.80 352.30 L541.20 352.30 L539.50 356.60 Z" stroke="#f00" stroke-width="0.8" fill="#f00" />
<line x1="537.30" y1="352.00" x2="541.70" y2="352.00" stroke="#f00" stroke-width="1" />
<rect x="477.00" y="360.40" width="65.50" height="19.00" rx="0" stroke="#000" stroke-width="1" fill="none" />
<rect x="483.60" y="362.40" width="50.60" height="10.10" rx="0" stroke="#000" stroke-width="1" fill="none" />
<line x1="477.00" y1="373.60" x2="542.50" y2="373.60" stroke="#000" stroke-width="0.9" />
<rect x="449.50" y="361.50" width="6.00" height="30.00" rx="0" stroke="#000" stroke-width="1" fill="none" />
<line x1="449.30" y1="363.50" x2="455.80" y2="363.50" stroke="#000" stroke-width="0.9" />
<line x1="455.80" y1="362.40" x2="477.00" y2="362.40" stroke="#000" stroke-width="1" />
<line x1="455.80" y1="373.20" x2="477.00" y2="373.20" stroke="#000" stroke-width="1" />
<line x1="542.50" y1="362.40" x2="563.70" y2="362.40" stroke="#000" stroke-width="1" />
<line x1="542.50" y1="373.20" x2="563.70" y2="373.20" stroke="#000" stroke-width="1" />
<rect x="563.50" y="361.50" width="5.00" height="12.00" rx="0" stroke="#000" stroke-width="1.1" fill="none" />
<line x1="449.90" y1="366.50" x2="585.60" y2="366.50" stroke="#f00" stroke-width="1" />
<line x1="468.80" y1="376.50" x2="547.90" y2="376.50" stroke="#f00" stroke-width="1" />
<rect x="576.50" y="350.50" width="6.00" height="34.00" rx="1.5" stroke="#000" stroke-width="1" fill="#fff" />
<line x1="576.60" y1="352.50" x2="582.90" y2="352.50" stroke="#f00" stroke-width="0.9" />
<path d="M568.5 364 Q573 362 576.6 355.5" stroke="#000" stroke-width="0.9" fill="none" />
<path d="M568.5 370.5 Q573 373 576.6 379.5" stroke="#000" stroke-width="0.9" fill="none" />
<line x1="580.50" y1="378.00" x2="580.50" y2="384.00" stroke="#777" stroke-width="0.8" />
<path d="M542.10 377.00 L563.10 371.60 L564.00 375.20 L542.80 381.00 Z" stroke="#000" stroke-width="1" fill="none" />
<line x1="542.50" y1="379.00" x2="563.50" y2="373.40" stroke="#000" stroke-width="0.8" />
<line x1="543.00" y1="378.50" x2="549.00" y2="377.00" stroke="#f00" stroke-width="0.8" />
<rect x="504.00" y="379.40" width="9.80" height="26.00" rx="0" stroke="none" stroke-width="0" fill="#ccc" fill-opacity="0.6"/>
<line x1="504.50" y1="379.40" x2="504.50" y2="405.40" stroke="#555" stroke-width="1" />
<line x1="506.50" y1="379.40" x2="506.50" y2="405.40" stroke="#555" stroke-width="1" />
<line x1="508.50" y1="379.40" x2="508.50" y2="405.40" stroke="#555" stroke-width="1" />
<line x1="510.50" y1="379.40" x2="510.50" y2="405.40" stroke="#555" stroke-width="1" />
<line x1="512.50" y1="379.40" x2="512.50" y2="405.40" stroke="#555" stroke-width="1" />
<line x1="513.50" y1="379.40" x2="513.50" y2="405.40" stroke="#999" stroke-width="0.8" />
<line x1="504.60" y1="405.40" x2="513.70" y2="405.40" stroke="#000" stroke-width="1.3" />
<rect x="506.00" y="405.40" width="6.20" height="28.10" rx="0" stroke="none" stroke-width="0" fill="#bbb" fill-opacity="0.8"/>
<line x1="506.50" y1="405.40" x2="506.50" y2="433.50" stroke="#666" stroke-width="1" />
<line x1="508.50" y1="405.40" x2="508.50" y2="433.50" stroke="#666" stroke-width="1" />
<line x1="510.50" y1="405.40" x2="510.50" y2="433.50" stroke="#666" stroke-width="1" />
<rect x="504.50" y="433.50" width="10.00" height="31.00" rx="0" stroke="#000" stroke-width="1.2" fill="#999" />
<rect x="506.00" y="434.00" width="6.00" height="29.50" rx="0" stroke="none" stroke-width="0" fill="none" fill-opacity="0"/>
<line x1="506.50" y1="434.00" x2="506.50" y2="463.50" stroke="#777" stroke-width="1" />
<line x1="508.50" y1="434.00" x2="508.50" y2="463.50" stroke="#777" stroke-width="1" />
<line x1="510.50" y1="434.00" x2="510.50" y2="463.50" stroke="#777" stroke-width="1" />
<rect x="506.00" y="464.00" width="6.20" height="27.70" rx="0" stroke="none" stroke-width="0" fill="#bbb" fill-opacity="0.8"/>
<line x1="506.50" y1="464.00" x2="506.50" y2="491.70" stroke="#666" stroke-width="1" />
<line x1="508.50" y1="464.00" x2="508.50" y2="491.70" stroke="#666" stroke-width="1" />
<line x1="510.50" y1="464.00" x2="510.50" y2="491.70" stroke="#666" stroke-width="1" />
<rect x="504.00" y="491.70" width="9.80" height="28.20" rx="0" stroke="none" stroke-width="0" fill="#ccc" fill-opacity="0.6"/>
<line x1="504.50" y1="491.70" x2="504.50" y2="519.90" stroke="#555" stroke-width="1" />
<line x1="506.50" y1="491.70" x2="506.50" y2="519.90" stroke="#555" stroke-width="1" />
<line x1="508.50" y1="491.70" x2="508.50" y2="519.90" stroke="#555" stroke-width="1" />
<line x1="510.50" y1="491.70" x2="510.50" y2="519.90" stroke="#555" stroke-width="1" />
<line x1="512.50" y1="491.70" x2="512.50" y2="519.90" stroke="#555" stroke-width="1" />
<line x1="513.50" y1="491.70" x2="513.50" y2="519.90" stroke="#999" stroke-width="0.8" />
<line x1="504.60" y1="491.70" x2="513.70" y2="491.70" stroke="#000" stroke-width="1.2" />
</g>
<g id="labels" opacity="0.999">
<text transform="translate(285.5 104.0) scale(0.655 1)" font-size="13.6" letter-spacing="1.15">顶面贴标头</text>
<path d="M334.80 108.60 L281.20 108.60 L243.20 178.70" stroke="#000" stroke-width="1.2" fill="none" stroke-linejoin="miter"/>
<text transform="translate(342.3 198.6) scale(0.655 1)" font-size="13.6" letter-spacing="1.15">夹带</text>
<path d="M338.00 202.60 L369.20 202.60 L392.00 233.10" stroke="#000" stroke-width="1.2" fill="none" stroke-linejoin="miter"/>
<text transform="translate(572.8 137.4) scale(0.655 1)" font-size="13.6" letter-spacing="1.15">圆周面贴标头</text>
<path d="M631.20 141.50 L569.20 141.50 L509.00 173.30" stroke="#000" stroke-width="1.2" fill="none" stroke-linejoin="miter"/>
<text transform="translate(722.4 200.4) scale(0.655 1)" font-size="13.6" letter-spacing="1.15">圆瓶机构</text>
<path d="M760.50 204.80 L716.50 204.80 L674.30 238.00" stroke="#000" stroke-width="1.2" fill="none" stroke-linejoin="miter"/>
<text transform="translate(193.5 419.0) scale(0.655 1)" font-size="13.6" letter-spacing="1.15">电控箱</text>
<path d="M192.20 423.50 L221.30 423.50 L283.90 391.70" stroke="#000" stroke-width="1.2" fill="none" stroke-linejoin="miter"/>
<text transform="translate(365.8 425.3) scale(0.655 1)" font-size="13.6" letter-spacing="1.15">标头支撑组件</text>
<path d="M362.90 429.50 L421.90 429.50 L475.80 355.80" stroke="#000" stroke-width="1.2" fill="none" stroke-linejoin="miter"/>
<text transform="translate(541.3 482.0) scale(0.655 1)" font-size="13.6" letter-spacing="1.15">角度调节丝杆</text>
<path d="M600.70 485.80 L541.30 485.80 L512.40 451.60" stroke="#000" stroke-width="1.2" fill="none" stroke-linejoin="miter"/>
<text transform="translate(208.4 540.0) scale(0.655 1)" font-size="13.6" letter-spacing="1.15">定位地脚</text>
<path d="M207.00 543.30 L248.00 543.30 L280.80 526.00" stroke="#000" stroke-width="1.2" fill="none" stroke-linejoin="miter"/>
<text transform="translate(263.0 559.5) scale(0.655 1)" font-size="13.6" letter-spacing="1.15">脚轮</text>
<path d="M257.00 563.90 L285.30 563.90 L298.50 541.50" stroke="#000" stroke-width="1.2" fill="none" stroke-linejoin="miter"/>
<text transform="translate(402.2 151.5) scale(0.655 1)" font-size="13.6" letter-spacing="1.15">触摸屏</text>
</g>
</svg>
</body></html>
